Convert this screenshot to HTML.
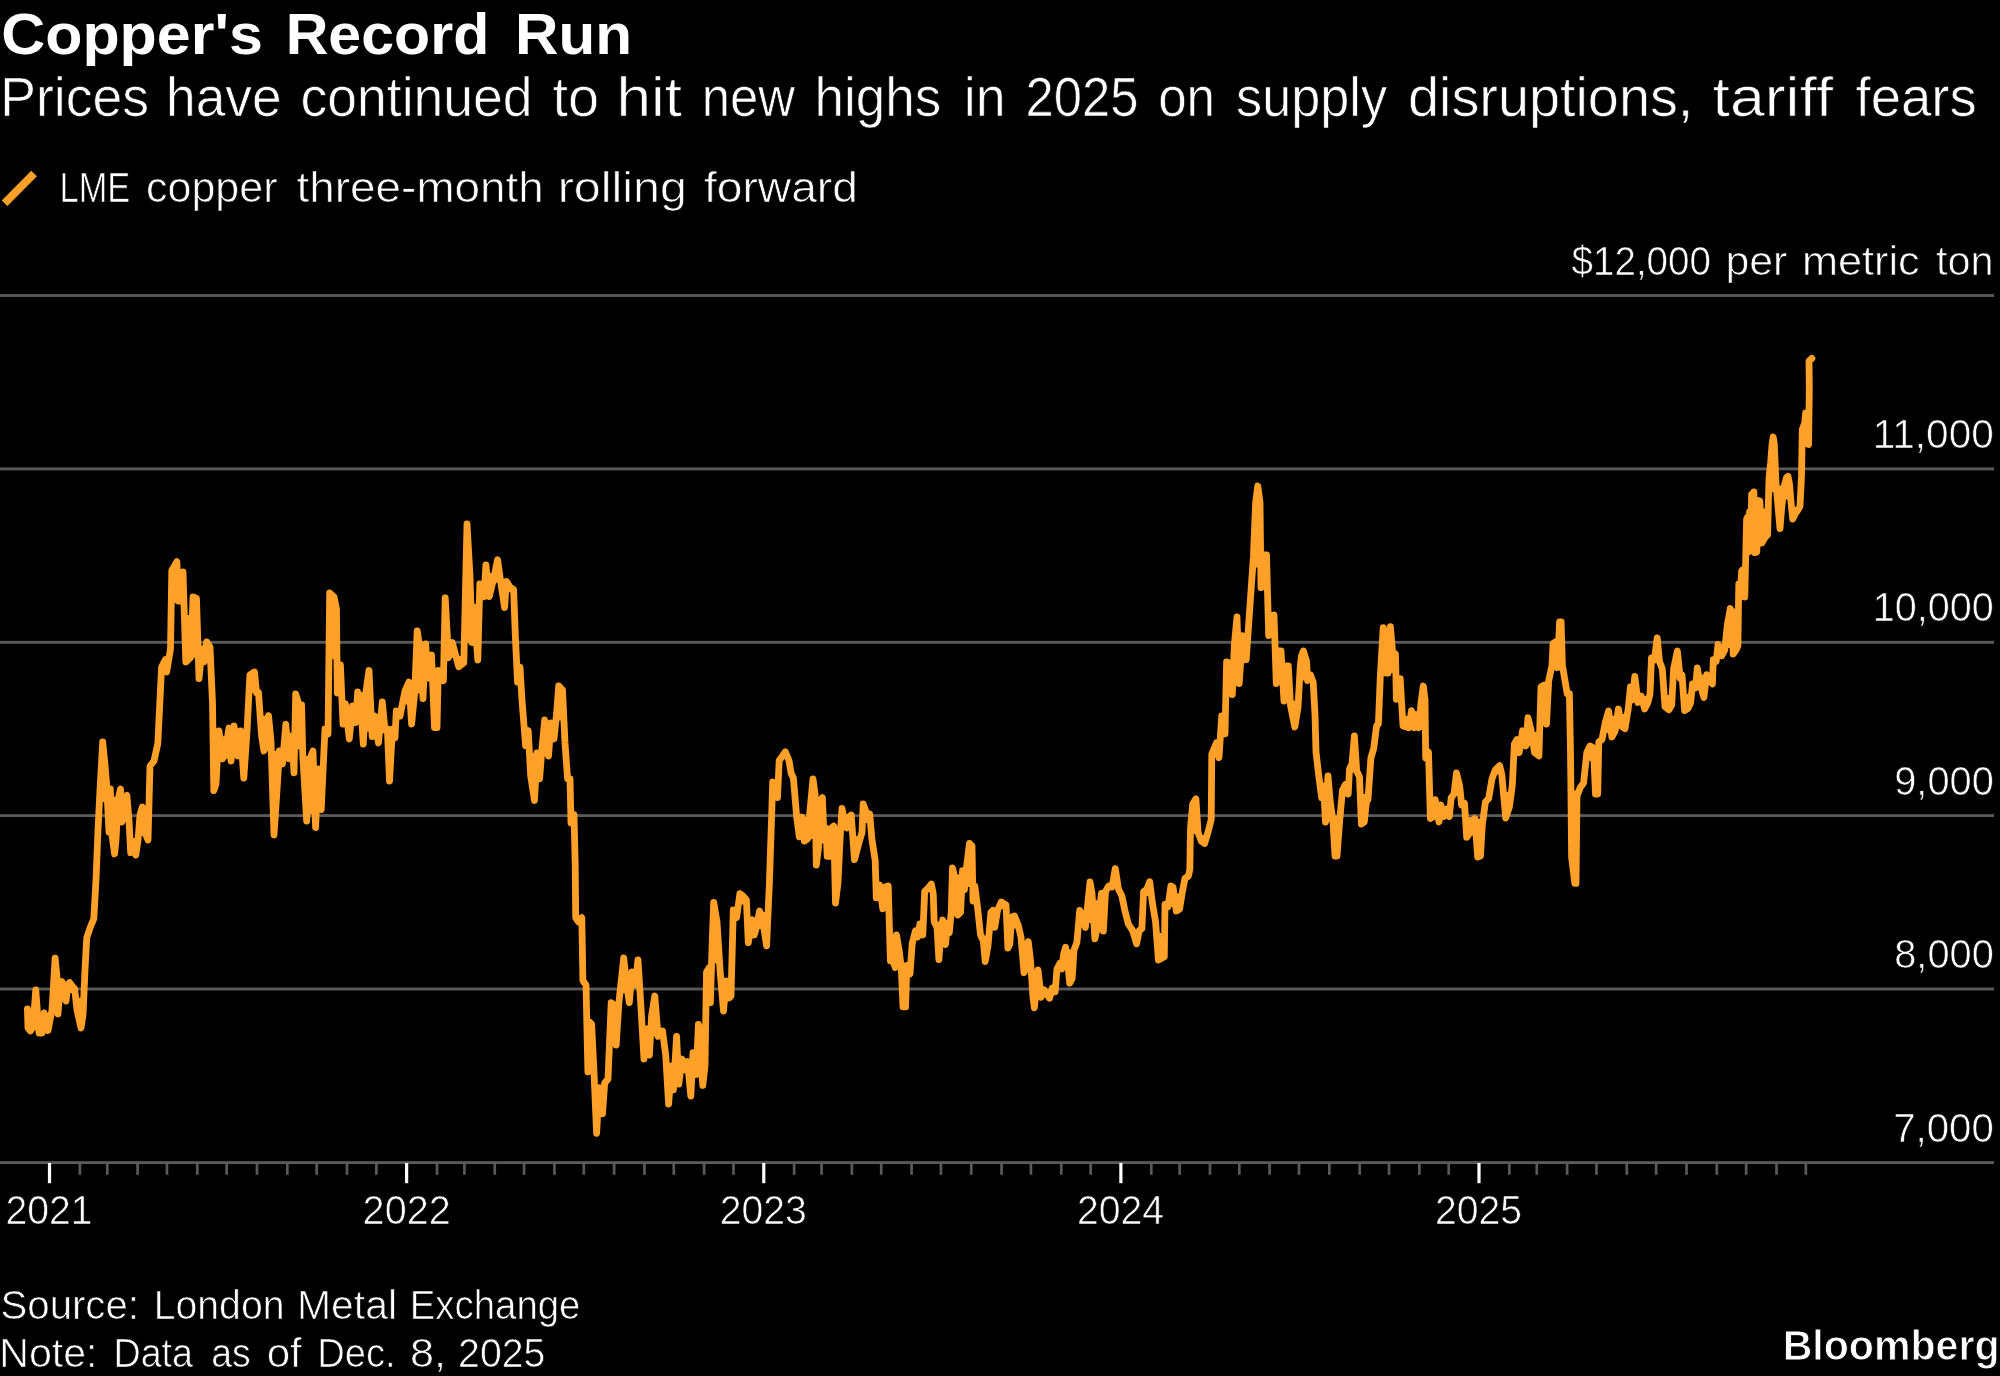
<!DOCTYPE html>
<html lang="en"><head><meta charset="utf-8"><title>Copper's Record Run</title>
<style>html,body{margin:0;padding:0;background:#000;}body{width:2000px;height:1376px;overflow:hidden;}svg{display:block;}text{font-family:"Liberation Sans",sans-serif;fill:#fff;}</style></head><body>
<svg width="2000" height="1376" viewBox="0 0 2000 1376">
<rect width="2000" height="1376" fill="#000"/>
<rect x="0" y="294.05" width="1994" height="2.9" fill="#595959"/>
<rect x="0" y="467.45" width="1994" height="2.9" fill="#595959"/>
<rect x="0" y="640.85" width="1994" height="2.9" fill="#595959"/>
<rect x="0" y="814.15" width="1994" height="2.9" fill="#595959"/>
<rect x="0" y="987.55" width="1994" height="2.9" fill="#595959"/>
<rect x="0" y="1161.15" width="1994" height="2.9" fill="#5a5a5a"/>
<rect x="78.53" y="1162.60" width="2.7" height="12.2" fill="#5a5a5a"/>
<rect x="105.93" y="1162.60" width="2.7" height="12.2" fill="#5a5a5a"/>
<rect x="136.26" y="1162.60" width="2.7" height="12.2" fill="#5a5a5a"/>
<rect x="165.61" y="1162.60" width="2.7" height="12.2" fill="#5a5a5a"/>
<rect x="195.94" y="1162.60" width="2.7" height="12.2" fill="#5a5a5a"/>
<rect x="225.30" y="1162.60" width="2.7" height="12.2" fill="#5a5a5a"/>
<rect x="255.63" y="1162.60" width="2.7" height="12.2" fill="#5a5a5a"/>
<rect x="285.96" y="1162.60" width="2.7" height="12.2" fill="#5a5a5a"/>
<rect x="315.31" y="1162.60" width="2.7" height="12.2" fill="#5a5a5a"/>
<rect x="345.65" y="1162.60" width="2.7" height="12.2" fill="#5a5a5a"/>
<rect x="375.00" y="1162.60" width="2.7" height="12.2" fill="#5a5a5a"/>
<rect x="435.66" y="1162.60" width="2.7" height="12.2" fill="#5a5a5a"/>
<rect x="463.06" y="1162.60" width="2.7" height="12.2" fill="#5a5a5a"/>
<rect x="493.39" y="1162.60" width="2.7" height="12.2" fill="#5a5a5a"/>
<rect x="522.74" y="1162.60" width="2.7" height="12.2" fill="#5a5a5a"/>
<rect x="553.07" y="1162.60" width="2.7" height="12.2" fill="#5a5a5a"/>
<rect x="582.43" y="1162.60" width="2.7" height="12.2" fill="#5a5a5a"/>
<rect x="612.76" y="1162.60" width="2.7" height="12.2" fill="#5a5a5a"/>
<rect x="643.09" y="1162.60" width="2.7" height="12.2" fill="#5a5a5a"/>
<rect x="672.44" y="1162.60" width="2.7" height="12.2" fill="#5a5a5a"/>
<rect x="702.78" y="1162.60" width="2.7" height="12.2" fill="#5a5a5a"/>
<rect x="732.13" y="1162.60" width="2.7" height="12.2" fill="#5a5a5a"/>
<rect x="792.79" y="1162.60" width="2.7" height="12.2" fill="#5a5a5a"/>
<rect x="820.19" y="1162.60" width="2.7" height="12.2" fill="#5a5a5a"/>
<rect x="850.52" y="1162.60" width="2.7" height="12.2" fill="#5a5a5a"/>
<rect x="879.87" y="1162.60" width="2.7" height="12.2" fill="#5a5a5a"/>
<rect x="910.21" y="1162.60" width="2.7" height="12.2" fill="#5a5a5a"/>
<rect x="939.56" y="1162.60" width="2.7" height="12.2" fill="#5a5a5a"/>
<rect x="969.89" y="1162.60" width="2.7" height="12.2" fill="#5a5a5a"/>
<rect x="1000.22" y="1162.60" width="2.7" height="12.2" fill="#5a5a5a"/>
<rect x="1029.57" y="1162.60" width="2.7" height="12.2" fill="#5a5a5a"/>
<rect x="1059.91" y="1162.60" width="2.7" height="12.2" fill="#5a5a5a"/>
<rect x="1089.26" y="1162.60" width="2.7" height="12.2" fill="#5a5a5a"/>
<rect x="1149.92" y="1162.60" width="2.7" height="12.2" fill="#5a5a5a"/>
<rect x="1178.30" y="1162.60" width="2.7" height="12.2" fill="#5a5a5a"/>
<rect x="1208.63" y="1162.60" width="2.7" height="12.2" fill="#5a5a5a"/>
<rect x="1237.98" y="1162.60" width="2.7" height="12.2" fill="#5a5a5a"/>
<rect x="1268.31" y="1162.60" width="2.7" height="12.2" fill="#5a5a5a"/>
<rect x="1297.67" y="1162.60" width="2.7" height="12.2" fill="#5a5a5a"/>
<rect x="1328.00" y="1162.60" width="2.7" height="12.2" fill="#5a5a5a"/>
<rect x="1358.33" y="1162.60" width="2.7" height="12.2" fill="#5a5a5a"/>
<rect x="1387.68" y="1162.60" width="2.7" height="12.2" fill="#5a5a5a"/>
<rect x="1418.02" y="1162.60" width="2.7" height="12.2" fill="#5a5a5a"/>
<rect x="1447.37" y="1162.60" width="2.7" height="12.2" fill="#5a5a5a"/>
<rect x="1508.03" y="1162.60" width="2.7" height="12.2" fill="#5a5a5a"/>
<rect x="1535.43" y="1162.60" width="2.7" height="12.2" fill="#5a5a5a"/>
<rect x="1565.76" y="1162.60" width="2.7" height="12.2" fill="#5a5a5a"/>
<rect x="1595.11" y="1162.60" width="2.7" height="12.2" fill="#5a5a5a"/>
<rect x="1625.44" y="1162.60" width="2.7" height="12.2" fill="#5a5a5a"/>
<rect x="1654.80" y="1162.60" width="2.7" height="12.2" fill="#5a5a5a"/>
<rect x="1685.13" y="1162.60" width="2.7" height="12.2" fill="#5a5a5a"/>
<rect x="1715.46" y="1162.60" width="2.7" height="12.2" fill="#5a5a5a"/>
<rect x="1744.81" y="1162.60" width="2.7" height="12.2" fill="#5a5a5a"/>
<rect x="1775.15" y="1162.60" width="2.7" height="12.2" fill="#5a5a5a"/>
<rect x="1804.50" y="1162.60" width="2.7" height="12.2" fill="#5a5a5a"/>
<rect x="47.90" y="1163.00" width="3.2" height="20.2" fill="#fff"/>
<rect x="405.03" y="1163.00" width="3.2" height="20.2" fill="#fff"/>
<rect x="762.16" y="1163.00" width="3.2" height="20.2" fill="#fff"/>
<rect x="1119.29" y="1163.00" width="3.2" height="20.2" fill="#fff"/>
<rect x="1477.40" y="1163.00" width="3.2" height="20.2" fill="#fff"/>
<polyline fill="none" stroke="#ffa028" stroke-width="6.8" stroke-linejoin="round" stroke-linecap="round" points="27.4,1009.0 28.0,1028.0 30.5,1031.0 33.0,1025.0 35.8,990.0 38.0,1020.0 39.0,1033.0 42.0,1033.0 44.2,1013.0 46.0,1020.0 48.0,1030.5 50.0,1020.0 52.0,1010.0 55.1,958.2 57.0,977.0 58.0,1014.0 60.0,987.0 62.0,981.6 64.0,996.0 66.0,1001.0 68.0,984.0 69.6,982.6 73.0,987.0 74.7,989.0 77.0,1010.0 81.0,1028.0 83.0,1015.0 85.0,970.0 86.7,938.0 90.0,928.0 93.8,918.8 96.0,880.0 98.0,830.0 100.0,790.0 102.7,742.0 105.0,765.0 106.6,784.0 109.0,832.0 110.3,789.0 112.0,835.0 114.6,854.0 116.0,840.0 118.0,800.0 120.5,789.0 121.8,822.0 124.0,800.0 126.9,795.4 129.0,820.0 130.7,852.7 133.0,848.0 135.8,855.0 138.0,840.0 140.0,815.0 142.3,807.0 144.0,820.0 146.0,835.0 148.0,840.0 150.0,766.0 154.0,761.0 157.8,743.6 161.6,667.0 165.4,659.6 166.7,672.0 170.5,649.0 171.8,570.5 176.9,561.6 178.0,601.0 180.5,601.0 183.0,572.0 185.8,662.0 191.0,657.0 193.0,597.0 196.5,598.5 199.0,678.7 202.0,649.0 204.0,662.0 206.7,641.8 210.0,647.0 212.5,703.0 213.8,790.6 216.0,784.0 218.9,730.8 222.7,758.8 226.5,743.6 229.0,728.0 231.0,761.0 234.0,725.8 238.0,756.0 240.5,730.8 243.8,778.0 246.9,733.0 249.9,674.9 254.5,672.0 256.5,692.7 258.5,692.7 261.6,736.0 264.0,751.0 266.5,728.0 268.5,715.6 271.0,741.0 274.0,835.0 277.4,784.0 279.4,751.0 282.5,764.0 285.8,724.5 288.9,758.8 292.0,736.0 294.0,772.8 295.7,694.0 299.0,705.0 301.6,705.0 302.8,756.0 306.7,821.0 310.0,758.8 313.0,751.0 315.6,827.5 318.0,769.0 321.2,809.5 325.0,729.0 328.0,734.0 329.7,592.9 334.0,597.0 336.5,609.0 337.3,693.0 340.4,665.0 343.0,724.0 345.4,703.6 349.3,739.0 352.6,706.0 355.6,722.6 357.7,692.0 360.7,703.6 363.3,744.0 365.8,693.0 369.0,670.5 372.2,736.6 374.7,716.0 378.5,743.0 382.3,702.0 384.9,729.0 387.4,729.0 389.5,781.0 392.5,729.0 395.0,738.0 396.3,711.0 400.0,716.0 405.0,690.8 409.0,682.0 411.6,724.0 414.7,693.0 417.2,631.0 420.5,652.0 423.0,698.5 425.6,643.8 428.0,678.0 431.5,655.0 434.5,727.7 437.0,727.7 438.3,670.5 443.4,680.7 445.2,598.0 448.5,657.8 452.3,642.5 458.7,666.7 463.8,662.8 467.0,524.0 470.0,576.0 472.0,642.5 474.0,607.0 477.8,660.0 479.8,584.0 484.0,596.7 485.9,565.0 489.2,596.7 494.3,576.0 497.6,559.8 501.0,584.0 504.6,607.5 506.4,581.3 510.0,587.0 513.6,589.5 515.4,637.0 517.5,682.0 520.0,667.0 521.8,697.4 525.6,745.7 528.2,730.5 530.7,776.0 534.5,800.5 537.0,753.0 539.6,778.8 542.0,748.0 544.7,720.0 548.5,756.0 551.0,722.8 554.0,739.0 556.7,712.7 558.7,686.0 562.5,689.8 565.0,743.0 567.6,778.8 570.0,778.8 571.0,823.0 574.0,814.5 575.2,865.0 575.7,917.6 578.5,922.0 581.8,917.6 582.9,980.8 586.0,985.0 587.9,1072.0 589.4,1022.0 591.6,1024.0 593.8,1068.0 596.6,1133.4 599.2,1087.6 602.5,1113.8 604.7,1083.0 608.0,1079.0 611.2,1002.6 614.0,1004.8 616.2,1045.0 618.9,1002.6 623.7,958.0 626.5,983.0 629.3,1002.6 632.0,972.0 635.2,985.0 638.0,960.0 640.7,1002.6 644.0,1059.0 647.2,1028.8 649.4,1055.0 651.6,1015.7 654.8,996.0 658.1,1036.4 662.5,1031.0 665.7,1055.0 668.6,1104.0 671.6,1065.8 673.4,1089.8 676.6,1036.4 678.8,1084.0 682.0,1059.0 685.4,1070.0 687.5,1061.5 690.8,1096.0 693.0,1052.7 696.3,1074.5 698.4,1024.4 702.8,1085.4 705.0,1065.8 706.5,972.0 709.3,967.7 710.4,1002.6 712.2,941.6 713.7,902.3 717.0,922.0 720.2,972.0 723.5,1011.0 726.1,980.8 729.0,998.0 731.0,996.0 733.3,910.0 736.6,917.6 739.9,893.6 743.0,896.0 746.4,900.0 748.3,942.6 752.0,919.7 754.2,935.0 756.5,927.0 759.6,911.0 762.9,921.8 766.6,945.8 769.4,882.6 771.6,817.0 772.7,782.0 776.0,786.7 777.5,797.6 779.2,760.5 782.5,756.0 785.3,751.8 789.0,760.5 791.2,773.6 793.4,778.0 796.7,817.0 799.3,836.8 802.0,817.0 804.3,841.0 807.6,839.0 809.8,812.8 813.0,779.0 815.2,795.4 816.3,865.0 818.5,847.7 819.6,802.0 822.4,797.6 824.0,836.8 826.0,828.0 827.2,856.4 829.4,856.4 831.6,828.0 833.7,826.0 835.5,903.0 838.0,882.6 840.3,834.6 842.0,808.5 844.6,821.6 846.8,828.0 849.0,817.0 851.2,815.0 854.5,859.7 858.8,843.4 862.0,832.5 863.2,804.0 866.4,812.8 869.7,814.0 871.9,839.0 875.2,860.8 876.3,897.9 879.5,884.8 882.8,908.8 885.0,887.0 888.2,885.9 890.4,961.0 892.6,959.0 895.2,967.6 896.5,935.0 899.1,950.0 901.3,967.6 903.0,1006.9 905.6,1006.9 906.8,965.4 910.0,974.0 912.2,943.6 915.5,930.6 917.7,937.0 919.9,924.0 922.8,935.0 924.7,891.5 928.5,887.8 931.3,884.0 933.2,893.4 934.2,921.8 937.0,927.4 938.9,959.6 940.8,931.0 942.7,920.0 945.5,944.5 947.4,923.7 949.3,933.0 951.2,912.3 952.5,868.0 955.0,878.0 957.8,915.0 960.6,912.3 962.5,870.7 964.4,889.6 966.3,868.8 969.5,843.3 972.0,846.0 973.0,901.0 974.8,885.9 977.7,908.5 980.5,935.0 983.3,940.7 985.2,961.5 988.0,946.0 990.9,912.3 992.8,910.4 994.7,927.4 997.5,910.4 1001.3,902.0 1006.0,904.8 1007.9,948.0 1009.8,944.0 1011.7,917.0 1014.5,916.0 1018.3,925.6 1021.0,937.0 1024.0,972.8 1025.9,961.5 1028.3,941.6 1030.6,961.5 1033.0,997.4 1034.4,1007.8 1036.3,988.0 1038.1,970.0 1041.0,997.4 1043.8,989.8 1046.7,993.6 1049.5,998.3 1052.3,988.0 1055.2,991.7 1057.0,969.0 1059.9,963.4 1061.8,969.0 1063.7,954.0 1065.6,947.3 1067.4,959.6 1069.7,983.2 1072.2,978.5 1074.0,950.0 1076.9,942.6 1079.7,910.4 1082.6,916.0 1085.4,927.4 1087.3,908.5 1090.0,882.0 1092.0,893.4 1094.9,938.8 1097.7,925.6 1099.6,908.5 1101.5,893.4 1103.4,931.0 1105.5,891.5 1108.7,886.0 1112.0,887.0 1115.3,868.6 1118.5,889.3 1121.8,895.8 1125.0,911.0 1128.3,924.0 1132.7,930.7 1136.6,943.8 1139.2,930.7 1141.9,928.5 1143.6,891.5 1146.9,889.3 1149.7,881.7 1152.3,902.4 1155.6,922.0 1158.4,960.0 1162.0,958.0 1164.3,957.0 1165.0,904.5 1168.0,906.7 1170.9,886.0 1173.0,887.0 1176.3,911.0 1179.6,909.0 1182.4,891.5 1185.0,878.4 1188.3,876.2 1189.8,869.7 1190.5,828.0 1192.7,804.0 1195.9,798.8 1198.1,832.6 1201.4,841.3 1204.6,843.5 1207.9,832.6 1211.2,819.5 1211.8,754.0 1214.5,747.6 1216.5,742.7 1219.0,757.6 1221.7,716.0 1225.0,733.8 1226.6,661.8 1230.5,664.0 1232.3,694.5 1234.4,644.4 1237.0,617.0 1239.2,683.6 1242.5,635.7 1246.2,659.7 1249.7,609.5 1253.4,557.0 1255.6,502.7 1257.8,486.0 1260.0,502.7 1261.0,587.7 1263.7,555.0 1266.5,555.0 1268.7,635.7 1270.9,616.0 1274.0,615.0 1276.3,683.6 1278.5,651.0 1281.0,651.0 1284.0,701.0 1286.0,666.0 1288.3,666.0 1290.5,705.4 1294.8,727.0 1298.0,707.6 1300.3,666.0 1301.5,656.0 1303.4,651.0 1306.6,661.6 1307.6,680.5 1310.4,674.8 1313.2,682.4 1315.0,714.5 1316.0,752.0 1318.9,777.0 1321.7,797.7 1323.6,786.4 1325.5,822.0 1328.0,776.0 1330.2,801.5 1333.0,822.0 1335.0,856.0 1337.0,856.0 1339.7,820.4 1342.5,790.0 1345.4,784.5 1348.2,794.0 1349.5,769.0 1352.0,763.8 1354.4,736.0 1356.7,771.0 1359.5,777.0 1361.4,824.0 1364.3,822.0 1366.5,801.5 1368.0,799.6 1370.9,758.0 1373.7,748.5 1376.6,725.9 1378.4,724.0 1380.3,676.7 1383.2,627.6 1386.0,673.0 1388.0,673.0 1390.4,626.6 1392.6,652.0 1395.5,654.0 1396.4,699.4 1398.3,678.6 1400.2,678.6 1403.0,725.9 1405.9,726.8 1408.7,727.7 1411.5,710.7 1414.4,727.7 1416.3,714.5 1419.0,727.7 1421.0,703.0 1423.3,686.0 1425.0,699.4 1425.7,758.0 1428.5,752.0 1430.4,818.5 1433.3,816.6 1435.2,799.6 1439.0,822.0 1440.8,805.0 1443.7,816.6 1446.5,809.0 1449.3,816.6 1451.2,797.7 1454.0,794.0 1456.5,773.0 1459.7,786.4 1461.6,805.0 1464.5,803.4 1466.7,837.4 1469.2,833.6 1471.0,820.4 1473.0,831.7 1474.9,818.5 1477.7,857.0 1480.5,856.0 1482.3,825.0 1485.4,802.0 1488.7,798.4 1492.0,778.8 1495.3,770.0 1499.6,765.7 1501.8,774.4 1505.7,818.0 1509.4,807.0 1512.3,785.3 1514.4,743.9 1517.0,739.5 1519.2,752.6 1522.5,730.8 1525.8,746.0 1528.0,717.7 1531.2,730.8 1534.5,752.6 1538.9,755.9 1541.0,687.0 1544.3,685.0 1546.5,724.0 1548.7,680.7 1552.0,665.4 1553.0,643.6 1556.3,641.4 1557.4,667.6 1559.6,621.8 1561.1,621.8 1562.4,665.4 1565.0,680.7 1567.2,693.7 1569.4,693.7 1570.5,752.6 1571.0,796.0 1571.6,857.0 1574.8,883.4 1576.0,883.4 1577.0,796.0 1580.3,787.5 1583.6,783.0 1586.8,752.6 1590.0,746.0 1593.4,748.0 1595.5,794.0 1597.7,794.0 1598.8,741.7 1602.0,739.5 1605.4,722.0 1608.6,711.0 1611.9,737.0 1615.2,730.8 1618.4,709.0 1621.7,726.4 1625.0,728.6 1628.2,709.0 1630.4,687.0 1632.6,700.0 1634.8,676.3 1638.0,702.5 1641.3,696.0 1644.6,709.0 1647.9,702.5 1650.0,693.7 1651.5,658.0 1654.4,660.0 1657.2,637.8 1659.5,661.5 1662.3,669.0 1665.0,706.8 1668.9,709.7 1671.7,705.0 1673.6,669.0 1677.4,651.0 1680.2,678.5 1682.0,674.7 1684.6,710.6 1687.8,708.7 1690.6,703.0 1692.5,684.0 1695.4,688.0 1697.3,668.0 1700.0,684.0 1703.9,697.4 1706.7,674.7 1709.5,678.5 1712.4,684.0 1713.3,659.6 1716.2,661.5 1718.0,644.5 1721.8,655.8 1724.7,650.0 1727.5,623.7 1730.3,608.5 1732.2,631.0 1733.2,654.0 1736.0,650.0 1737.9,646.0 1738.8,584.0 1740.7,585.9 1741.7,570.7 1743.6,569.0 1744.8,597.0 1746.6,519.0 1747.6,517.0 1748.6,552.0 1749.6,512.0 1750.6,550.0 1751.6,494.5 1752.6,548.0 1753.9,492.0 1754.8,552.7 1756.8,552.0 1758.0,500.5 1759.8,501.0 1761.8,543.0 1765.3,537.0 1767.6,535.0 1769.0,478.0 1770.6,463.0 1772.1,444.0 1773.2,437.0 1774.3,444.0 1776.0,483.9 1780.0,528.6 1781.5,510.0 1784.0,487.0 1786.5,477.5 1788.0,476.3 1789.5,484.0 1790.8,499.8 1792.7,519.0 1795.0,514.2 1798.3,509.4 1800.0,506.2 1801.5,475.9 1802.3,429.5 1804.7,423.0 1805.6,413.0 1807.6,444.0 1808.6,444.5 1809.3,388.0 1809.0,361.0 1811.9,358.4"/>
<polygon fill="#ffa028" points="27.4,1009.0 28.1,1009.0 28.9,1009.0 29.6,1009.0 30.4,1009.0 31.1,1009.0 31.9,1009.0 32.6,1009.0 33.4,1009.0 34.1,1009.0 34.9,1001.2 35.6,991.9 36.4,998.2 37.1,1008.4 37.9,1013.0 38.6,1013.0 39.4,1013.0 40.1,1013.0 40.9,1013.0 41.6,1013.0 42.4,1013.0 43.1,1013.0 43.9,1013.0 44.6,1013.0 45.4,1013.0 46.1,1013.0 46.9,1013.0 47.6,1013.0 48.4,1013.0 49.1,1013.0 49.9,1013.0 50.6,1013.0 51.4,1013.0 52.1,1007.5 52.9,995.0 53.6,982.4 54.4,969.9 55.1,958.2 55.9,966.1 56.6,973.5 57.4,981.6 58.1,981.6 58.9,981.6 59.6,981.6 60.4,981.6 61.1,981.6 61.9,981.6 62.6,982.6 63.4,982.6 64.2,982.6 64.9,982.6 65.7,982.6 66.4,982.6 67.2,982.6 67.9,982.6 68.7,982.6 69.4,982.6 70.2,983.3 70.9,984.3 71.7,985.3 72.4,986.2 73.2,987.2 73.9,988.1 74.7,988.9 75.4,995.4 76.2,997.7 76.9,997.7 77.7,997.7 78.4,997.7 79.2,997.7 79.9,997.7 80.7,997.7 81.4,997.7 82.2,997.7 82.9,997.7 83.7,997.7 84.4,983.5 84.4,983.5 83.7,1000.4 82.9,1015.6 82.2,1020.5 81.4,1025.4 80.7,1026.4 79.9,1023.1 79.2,1019.7 78.4,1016.3 77.7,1012.9 76.9,1010.0 76.2,1002.2 75.4,995.4 74.7,993.1 73.9,993.1 73.2,993.1 72.4,993.1 71.7,993.1 70.9,993.1 70.2,993.1 69.4,993.1 68.7,993.1 67.9,993.1 67.2,993.1 66.4,997.6 65.7,1001.0 64.9,1001.0 64.2,1001.0 63.4,1001.0 62.6,1001.0 61.9,1001.0 61.1,1001.0 60.4,1001.0 59.6,1001.0 58.9,1001.9 58.1,1012.0 57.4,1014.0 56.6,1014.0 55.9,1014.0 55.1,1014.0 54.4,1014.0 53.6,1014.0 52.9,1014.0 52.1,1014.0 51.4,1014.0 50.6,1016.8 49.9,1020.5 49.1,1024.5 48.4,1028.4 47.6,1030.5 46.9,1030.5 46.1,1030.5 45.4,1030.5 44.6,1030.5 43.9,1030.5 43.1,1030.5 42.4,1030.5 41.6,1033.0 40.9,1033.0 40.1,1033.0 39.4,1033.0 38.6,1030.6 37.9,1030.6 37.1,1030.6 36.4,1030.6 35.6,1030.6 34.9,1030.6 34.1,1030.6 33.4,1030.6 32.6,1030.6 31.9,1030.6 31.1,1030.6 30.4,1031.0 29.6,1031.0 28.9,1031.0 28.1,1031.0 27.4,1031.0"/>
<polygon fill="#ffa028" points="98.7,817.0 99.4,802.0 100.2,787.3 100.9,774.0 101.7,760.7 102.4,747.3 103.2,746.5 103.9,754.0 104.7,761.5 105.4,769.8 106.2,778.7 106.9,789.0 107.7,789.0 108.4,789.0 109.2,789.0 109.9,789.0 110.7,797.1 111.4,797.1 112.2,797.1 112.9,797.1 113.7,797.1 114.4,797.1 115.2,797.1 115.9,797.1 116.7,797.1 117.4,797.1 118.2,797.1 118.9,796.0 119.7,792.7 120.4,789.0 121.2,795.4 121.9,795.4 122.7,795.4 123.4,795.4 124.2,795.4 124.9,795.4 125.7,795.4 126.4,795.4 127.2,798.3 127.9,807.1 128.7,815.9 129.4,827.7 130.2,838.1 130.9,838.1 131.7,838.1 132.4,838.1 133.2,838.1 133.9,838.1 134.7,838.1 135.4,838.1 136.2,838.1 136.9,838.1 137.7,838.1 138.4,835.0 139.2,825.6 139.9,815.0 140.7,812.7 141.4,810.1 142.2,807.5 142.9,807.0 143.7,807.0 144.4,807.0 145.2,807.0 145.9,807.0 146.7,807.0 147.4,807.0 148.2,807.0 148.9,806.7 149.7,778.9 149.7,778.9 148.9,806.7 148.2,834.4 147.4,838.5 146.7,836.6 145.9,836.0 145.2,836.0 144.4,836.0 143.7,836.0 142.9,836.0 142.2,836.0 141.4,836.0 140.7,836.0 139.9,836.0 139.2,836.0 138.4,836.0 137.7,842.4 136.9,847.5 136.2,852.6 135.4,854.0 134.7,852.7 133.9,852.7 133.2,852.7 132.4,852.7 131.7,852.7 130.9,852.7 130.2,842.1 129.4,827.7 128.7,822.0 127.9,822.0 127.2,822.0 126.4,822.0 125.7,822.0 124.9,822.0 124.2,822.0 123.4,822.0 122.7,822.0 121.9,822.0 121.2,822.0 120.4,822.0 119.7,822.0 118.9,822.0 118.2,822.0 117.4,822.0 116.7,827.0 115.9,841.0 115.2,848.5 114.4,852.5 113.7,847.1 112.9,841.6 112.2,836.1 111.4,832.0 110.7,832.0 109.9,832.0 109.2,832.0 108.4,820.0 107.7,805.0 106.9,802.0 106.2,802.0 105.4,802.0 104.7,802.0 103.9,802.0 103.2,802.0 102.4,802.0 101.7,802.0 100.9,802.0 100.2,802.0 99.4,802.0 98.7,817.0"/>
<polygon fill="#ffa028" points="160.7,686.1 161.4,671.0 162.2,665.9 162.9,664.5 163.7,663.0 164.4,661.5 165.2,660.1 165.9,659.6 166.7,659.6 167.4,659.6 168.2,659.6 168.9,658.7 168.9,658.7 168.2,663.2 167.4,667.8 166.7,672.0 165.9,672.0 165.2,672.0 164.4,672.0 163.7,672.0 162.9,672.0 162.2,672.0 161.4,672.0 160.7,686.1"/>
<polygon fill="#ffa028" points="170.4,649.0 171.2,609.8 171.9,570.3 172.7,569.0 173.4,567.7 174.2,566.4 174.9,565.1 175.7,563.8 176.4,562.5 177.2,570.6 177.9,572.0 178.7,572.0 179.4,572.0 180.2,572.0 180.9,572.0 181.7,572.0 182.4,572.0 183.2,576.8 183.9,600.9 184.7,615.0 185.4,615.0 186.2,615.0 186.9,615.0 187.7,615.0 188.4,615.0 189.2,615.0 189.9,615.0 190.7,615.0 191.4,615.0 192.2,615.0 192.9,597.0 193.7,597.3 194.4,597.6 195.2,597.9 195.9,598.2 196.7,603.3 197.4,627.4 198.2,645.9 198.9,645.9 199.7,645.9 200.4,645.9 201.2,645.9 201.9,645.9 202.7,645.9 203.4,645.9 204.2,645.9 204.9,645.9 205.7,645.9 206.4,644.0 207.2,642.5 207.9,643.7 208.7,644.9 209.4,646.1 210.2,650.4 210.9,667.2 210.9,667.2 210.2,662.0 209.4,662.0 208.7,662.0 207.9,662.0 207.2,662.0 206.4,662.0 205.7,662.0 204.9,662.0 204.2,662.0 203.4,662.0 202.7,662.0 201.9,662.0 201.2,662.0 200.4,664.8 199.7,672.3 198.9,678.7 198.2,657.8 197.4,657.8 196.7,657.8 195.9,657.8 195.2,657.8 194.4,657.8 193.7,657.8 192.9,657.8 192.2,657.8 191.4,657.8 190.7,657.8 189.9,658.1 189.2,658.8 188.4,659.5 187.7,660.2 186.9,660.9 186.2,661.7 185.4,649.1 184.7,625.0 183.9,601.0 183.2,601.0 182.4,601.0 181.7,601.0 180.9,601.0 180.2,601.0 179.4,601.0 178.7,601.0 177.9,601.0 177.2,601.0 176.4,601.0 175.7,601.0 174.9,601.0 174.2,601.0 173.4,601.0 172.7,601.0 171.9,601.0 171.2,609.8 170.4,649.6"/>
<polygon fill="#ffa028" points="212.2,695.2 212.9,730.0 213.7,730.8 214.4,730.8 215.2,730.8 215.9,730.8 216.7,730.8 217.4,730.8 218.2,730.8 218.9,730.8 219.7,736.3 220.4,736.3 221.2,736.3 221.9,736.3 222.7,736.3 223.4,736.3 224.2,736.3 224.9,736.3 225.7,736.3 226.4,736.3 227.2,736.3 227.9,734.9 228.7,730.2 229.4,728.0 230.2,728.0 230.9,728.0 231.7,728.0 232.4,728.0 233.2,728.0 233.9,725.8 234.7,730.7 235.4,730.8 236.2,730.8 236.9,730.8 237.7,730.8 238.4,730.8 239.2,730.8 239.9,730.8 240.7,730.8 241.4,730.8 242.2,730.8 242.9,730.8 243.7,730.8 244.4,730.8 245.2,730.8 245.9,730.8 246.7,730.8 247.4,723.3 248.2,708.8 248.9,694.3 249.7,679.7 250.4,674.6 251.2,674.1 251.9,673.6 252.7,673.2 253.4,672.7 254.2,672.2 254.9,676.1 255.7,683.9 256.4,691.7 257.1,692.7 257.1,692.7 256.4,692.7 255.7,692.7 254.9,692.7 254.2,692.7 253.4,692.7 252.7,692.7 251.9,692.7 251.2,692.7 250.4,692.7 249.7,692.7 248.9,694.3 248.2,708.8 247.4,723.3 246.7,736.6 245.9,747.5 245.2,758.4 244.4,769.3 243.7,775.9 242.9,765.1 242.2,756.0 241.4,756.0 240.7,756.0 239.9,756.0 239.2,756.0 238.4,756.0 237.7,756.0 236.9,756.0 236.2,756.0 235.4,756.0 234.7,756.0 233.9,756.0 233.2,756.0 232.4,756.0 231.7,756.0 230.9,761.0 230.2,758.8 229.4,758.8 228.7,758.8 227.9,758.8 227.2,758.8 226.4,758.8 225.7,758.8 224.9,758.8 224.2,758.8 223.4,758.8 222.7,758.8 221.9,758.8 221.2,758.8 220.4,758.8 219.7,758.8 218.9,758.8 218.2,758.8 217.4,758.8 216.7,772.1 215.9,784.3 215.2,786.5 214.4,788.8 213.7,780.5 212.9,730.0 212.2,695.2"/>
<polygon fill="#ffa028" points="259.4,705.3 260.1,715.7 260.9,715.7 261.6,715.7 262.4,715.7 263.1,715.7 263.9,715.7 264.6,715.7 265.4,715.7 266.1,715.7 266.9,715.7 267.6,715.7 268.4,715.6 269.1,722.2 269.9,729.8 270.6,737.4 271.4,751.0 272.1,751.0 272.9,751.0 273.6,751.0 274.4,751.0 275.1,751.0 275.9,751.0 276.6,751.0 277.4,751.0 278.1,751.0 278.9,751.0 279.6,751.0 280.4,751.0 281.1,751.0 281.9,751.0 282.6,751.0 283.4,751.0 284.1,744.3 284.9,735.3 285.6,726.3 286.4,731.1 287.1,733.9 287.9,733.9 288.6,733.9 289.4,733.9 290.1,733.9 290.9,733.9 291.6,733.9 292.4,733.9 293.1,733.9 293.9,733.9 294.6,733.9 295.4,707.9 296.1,695.5 296.9,698.0 297.6,700.5 298.4,703.0 299.1,705.0 299.9,705.0 300.6,705.0 301.4,705.0 302.1,728.4 302.9,756.0 303.6,756.0 304.4,756.0 305.1,756.0 305.9,756.0 306.6,756.0 307.4,756.0 308.1,756.0 308.9,756.0 309.6,756.0 310.4,756.0 311.1,755.8 311.9,753.9 312.6,751.9 313.4,762.8 314.1,769.0 314.9,769.0 315.6,769.0 316.4,769.0 317.1,769.0 317.9,769.0 318.6,769.0 319.4,769.0 320.1,769.0 320.9,769.0 321.6,769.0 322.4,769.0 323.1,768.2 323.9,752.3 324.6,736.4 325.4,729.0 326.1,729.0 326.9,729.0 327.6,729.0 328.4,700.8 329.1,638.6 329.9,593.1 330.6,593.8 331.4,594.5 332.1,595.2 332.9,596.0 333.6,596.7 334.4,598.9 335.1,602.5 335.9,606.1 336.6,624.7 337.4,665.0 338.1,665.0 338.9,665.0 339.6,665.0 340.4,665.0 341.1,682.0 341.9,699.0 342.6,703.6 343.4,703.6 344.1,703.6 344.9,703.6 345.6,705.9 346.4,706.0 347.1,706.0 347.9,706.0 348.6,706.0 349.4,706.0 350.1,706.0 350.9,706.0 351.6,706.0 352.4,706.0 353.1,706.0 353.9,706.0 354.6,706.0 355.4,706.0 356.1,706.0 356.9,703.7 357.6,692.0 358.4,692.3 359.1,692.3 359.9,692.3 360.6,692.3 361.4,692.3 362.1,692.3 362.9,692.3 363.6,692.3 364.4,692.3 365.1,692.3 365.9,692.3 366.6,687.0 367.4,681.8 368.1,676.5 368.9,670.5 369.6,683.9 370.4,699.4 371.1,714.9 371.9,716.0 372.6,716.0 373.4,716.0 374.1,716.0 374.9,716.0 375.6,716.0 376.4,716.0 377.1,716.0 377.9,716.0 378.6,716.0 379.4,716.0 380.1,716.0 380.9,716.0 381.6,709.0 382.4,702.0 383.1,710.8 383.9,718.6 384.6,726.4 385.4,729.0 386.1,729.0 386.9,729.0 387.6,729.0 388.4,729.0 389.1,729.0 389.9,729.0 390.6,729.0 391.4,729.0 392.1,729.0 392.9,729.0 393.6,729.0 394.4,729.0 395.1,729.0 395.9,719.3 396.6,711.0 397.4,711.0 398.1,711.0 398.9,711.0 399.6,711.0 400.4,711.0 401.1,710.2 401.9,706.4 402.6,702.6 403.4,698.9 404.1,695.1 404.9,690.8 405.6,689.4 406.4,687.7 407.1,686.1 407.9,684.4 408.6,682.8 409.4,682.0 410.1,682.0 410.9,682.0 411.6,682.0 412.4,682.0 413.1,682.0 413.9,682.0 414.6,682.0 415.4,675.6 416.1,657.0 416.9,638.4 417.6,633.9 418.4,638.6 419.1,643.4 419.9,643.8 420.6,643.8 421.4,643.8 422.1,643.8 422.9,643.8 423.6,643.8 424.4,643.8 425.1,643.8 425.9,648.1 426.6,655.0 427.4,655.0 428.1,655.0 428.9,655.0 429.6,655.0 430.4,655.0 431.1,655.0 431.9,664.7 432.6,670.5 433.4,670.5 434.1,670.5 434.9,670.5 435.6,670.5 436.4,670.5 437.1,670.5 437.9,670.5 438.6,670.5 439.4,670.5 440.1,670.5 440.9,670.5 441.6,670.5 442.4,670.5 443.1,670.5 443.9,657.7 444.6,623.3 445.4,601.6 446.1,615.2 446.9,628.8 447.6,642.4 448.4,642.5 449.1,642.5 449.9,642.5 450.6,642.5 451.4,642.5 452.1,642.5 452.9,644.8 453.6,647.6 454.4,650.4 455.1,653.3 455.9,656.1 456.6,656.1 457.4,656.1 458.1,656.1 458.9,656.1 459.6,656.1 460.4,656.1 461.1,656.1 461.9,656.1 462.6,656.1 463.4,656.1 464.1,647.6 464.9,615.1 465.6,582.6 466.4,550.0 467.1,526.6 467.9,539.6 468.6,552.6 469.4,565.6 470.1,581.0 470.9,605.9 471.6,607.0 472.4,607.0 473.1,607.0 473.9,607.0 474.6,607.0 475.4,607.0 476.1,607.0 476.9,607.0 477.6,607.0 478.4,607.0 479.1,607.0 479.9,584.0 480.6,584.0 481.4,584.0 482.1,584.0 482.9,584.0 483.6,584.0 484.4,584.0 485.1,577.5 485.9,565.0 486.6,572.2 487.4,573.1 488.1,573.1 488.9,573.1 489.6,573.1 490.4,573.1 491.1,573.1 491.9,573.1 492.6,573.1 493.4,573.1 494.1,573.1 494.9,573.1 495.6,569.4 496.4,565.7 497.1,562.0 497.9,561.9 498.6,567.3 499.4,572.6 500.1,577.9 500.9,581.3 501.6,581.3 502.4,581.3 503.1,581.3 503.9,581.3 504.6,581.3 505.4,581.3 506.1,581.3 506.9,582.1 507.6,583.3 508.4,584.5 509.1,585.7 509.9,586.8 510.6,587.5 511.4,588.0 512.1,588.5 512.9,589.0 513.6,589.5 514.4,610.6 514.4,610.6 513.6,592.2 512.9,592.2 512.1,592.2 511.4,592.2 510.6,592.2 509.9,592.2 509.1,592.2 508.4,592.2 507.6,592.2 506.9,592.2 506.1,592.2 505.4,595.9 504.6,607.5 503.9,602.9 503.1,598.0 502.4,593.1 501.6,588.2 500.9,584.0 500.1,582.7 499.4,582.7 498.6,582.7 497.9,582.7 497.1,582.7 496.4,582.7 495.6,582.7 494.9,582.7 494.1,582.7 493.4,582.7 492.6,582.7 491.9,585.7 491.1,588.8 490.4,591.8 489.6,594.9 488.9,596.7 488.1,596.7 487.4,596.7 486.6,596.7 485.9,596.7 485.1,596.7 484.4,596.7 483.6,596.7 482.9,596.7 482.1,596.7 481.4,596.7 480.6,596.7 479.9,596.7 479.1,608.7 478.4,637.2 477.6,657.9 476.9,647.4 476.1,642.5 475.4,642.5 474.6,642.5 473.9,642.5 473.1,642.5 472.4,642.5 471.6,642.5 470.9,642.5 470.1,642.5 469.4,642.5 468.6,642.5 467.9,642.5 467.1,642.5 466.4,642.5 465.6,642.5 464.9,642.5 464.1,647.6 463.4,663.1 462.6,663.7 461.9,664.3 461.1,664.8 460.4,665.4 459.6,666.0 458.9,666.5 458.1,664.6 457.4,661.8 456.6,658.9 455.9,657.8 455.1,657.8 454.4,657.8 453.6,657.8 452.9,657.8 452.1,657.8 451.4,657.8 450.6,657.8 449.9,657.8 449.1,657.8 448.4,657.8 447.6,657.8 446.9,657.8 446.1,657.8 445.4,657.8 444.6,657.8 443.9,657.8 443.1,680.7 442.4,680.7 441.6,680.7 440.9,680.7 440.1,680.7 439.4,680.7 438.6,680.7 437.9,688.1 437.1,721.1 436.4,727.7 435.6,727.7 434.9,727.7 434.1,719.2 433.4,701.0 432.6,682.9 431.9,678.0 431.1,678.0 430.4,678.0 429.6,678.0 428.9,678.0 428.1,678.0 427.4,678.0 426.6,678.0 425.9,678.0 425.1,678.0 424.4,678.0 423.6,684.8 422.9,698.5 422.1,693.5 421.4,693.5 420.6,693.5 419.9,693.5 419.1,693.5 418.4,693.5 417.6,693.5 416.9,693.5 416.1,693.5 415.4,693.5 414.6,693.5 413.9,701.0 413.1,708.5 412.4,716.0 411.6,724.0 410.9,712.7 410.1,704.6 409.4,704.6 408.6,704.6 407.9,704.6 407.1,704.6 406.4,704.6 405.6,704.6 404.9,704.6 404.1,704.6 403.4,704.6 402.6,704.6 401.9,706.4 401.1,710.2 400.4,714.0 399.6,716.0 398.9,716.0 398.1,716.0 397.4,716.0 396.6,716.0 395.9,719.3 395.1,734.9 394.4,738.0 393.6,738.0 392.9,738.0 392.1,738.0 391.4,748.1 390.6,761.1 389.9,774.1 389.1,772.3 388.4,753.8 387.6,735.2 386.9,733.3 386.1,733.3 385.4,733.3 384.6,733.3 383.9,733.3 383.1,733.3 382.4,733.3 381.6,733.3 380.9,733.3 380.1,733.3 379.4,733.3 378.6,741.4 377.9,738.7 377.1,736.6 376.4,736.6 375.6,736.6 374.9,736.6 374.1,736.6 373.4,736.6 372.6,736.6 371.9,731.8 371.1,731.8 370.4,731.8 369.6,731.8 368.9,731.8 368.1,731.8 367.4,731.8 366.6,731.8 365.9,731.8 365.1,731.8 364.4,731.8 363.6,736.9 362.9,737.8 362.1,726.1 361.4,722.6 360.6,722.6 359.9,722.6 359.1,722.6 358.4,722.6 357.6,722.6 356.9,722.6 356.1,722.6 355.4,722.6 354.6,722.6 353.9,722.6 353.1,722.6 352.4,722.6 351.6,722.6 350.9,723.0 350.1,730.5 349.4,739.0 348.6,733.1 347.9,726.3 347.1,724.0 346.4,724.0 345.6,724.0 344.9,724.0 344.1,724.0 343.4,724.0 342.6,716.1 341.9,699.0 341.1,693.0 340.4,693.0 339.6,693.0 338.9,693.0 338.1,693.0 337.4,693.0 336.6,659.3 335.9,659.3 335.1,659.3 334.4,659.3 333.6,659.3 332.9,659.3 332.1,659.3 331.4,659.3 330.6,659.3 329.9,659.3 329.1,659.3 328.4,700.8 327.6,734.0 326.9,734.0 326.1,734.0 325.4,734.0 324.6,736.4 323.9,752.3 323.1,768.2 322.4,784.1 321.6,800.0 320.9,809.5 320.1,809.5 319.4,809.5 318.6,809.5 317.9,809.5 317.1,809.5 316.4,809.5 315.6,827.5 314.9,814.3 314.1,814.3 313.4,814.3 312.6,814.3 311.9,814.3 311.1,814.3 310.4,814.3 309.6,814.3 308.9,814.3 308.1,814.3 307.4,814.3 306.6,821.0 305.9,807.7 305.1,795.2 304.4,782.7 303.6,770.2 302.9,757.7 302.1,749.6 301.4,749.6 300.6,749.6 299.9,749.6 299.1,749.6 298.4,749.6 297.6,749.6 296.9,749.6 296.1,749.6 295.4,749.6 294.6,749.6 293.9,772.8 293.1,758.8 292.4,758.8 291.6,758.8 290.9,758.8 290.1,758.8 289.4,758.8 288.6,758.8 287.9,758.8 287.1,758.8 286.4,758.8 285.6,758.8 284.9,758.8 284.1,758.8 283.4,758.8 282.6,762.2 281.9,764.0 281.1,764.0 280.4,764.0 279.6,764.0 278.9,764.0 278.1,771.6 277.4,784.0 276.6,795.3 275.9,806.5 275.1,817.8 274.4,829.0 273.6,824.0 272.9,800.5 272.1,777.0 271.4,753.5 270.6,751.0 269.9,751.0 269.1,751.0 268.4,751.0 267.6,751.0 266.9,751.0 266.1,751.0 265.4,751.0 264.6,751.0 263.9,751.0 263.1,745.7 262.4,741.0 261.6,736.3 260.9,726.2 260.1,715.7 259.4,705.3"/>
<polygon fill="#ffa028" points="515.9,647.7 516.6,663.8 517.4,667.0 518.1,667.0 518.9,667.0 519.6,667.0 520.4,673.8 521.1,686.4 521.1,686.4 520.4,682.0 519.6,682.0 518.9,682.0 518.1,682.0 517.4,682.0 516.6,663.8 515.9,647.7"/>
<polygon fill="#ffa028" points="523.6,720.9 524.4,730.4 525.1,730.5 525.9,730.5 526.6,730.5 527.4,730.5 528.1,730.5 528.9,743.2 529.6,753.0 530.4,753.0 531.1,753.0 531.9,753.0 532.6,753.0 533.4,753.0 534.1,753.0 534.9,753.0 535.6,753.0 536.4,753.0 537.1,753.0 537.9,753.0 538.6,753.0 539.4,753.0 540.1,753.0 540.9,753.0 541.6,752.5 542.4,743.9 543.1,736.1 543.9,728.3 544.6,720.0 545.4,722.8 546.1,722.8 546.9,722.8 547.6,722.8 548.4,722.8 549.1,722.8 549.9,722.8 550.6,722.8 551.4,722.8 552.1,722.8 552.9,722.8 553.6,722.8 554.4,722.8 555.1,722.8 555.9,720.5 556.6,712.7 557.4,703.4 558.1,693.3 558.9,686.2 559.6,686.9 560.4,687.7 561.1,688.4 561.9,689.2 562.6,693.0 563.4,709.0 564.1,724.9 564.1,724.9 563.4,720.5 562.6,720.5 561.9,720.5 561.1,720.5 560.4,720.5 559.6,720.5 558.9,720.5 558.1,720.5 557.4,720.5 556.6,720.5 555.9,720.5 555.1,727.8 554.4,735.1 553.6,739.0 552.9,739.0 552.1,739.0 551.4,739.0 550.6,739.0 549.9,739.0 549.1,747.4 548.4,756.0 547.6,756.0 546.9,756.0 546.1,756.0 545.4,756.0 544.6,756.0 543.9,756.0 543.1,756.0 542.4,756.0 541.6,756.0 540.9,762.1 540.1,771.7 539.4,778.8 538.6,778.8 537.9,778.8 537.1,778.8 536.4,778.8 535.6,778.8 534.9,792.9 534.1,798.2 533.4,793.4 532.6,788.6 531.9,783.7 531.1,778.9 530.4,770.5 529.6,756.9 528.9,745.7 528.1,745.7 527.4,745.7 526.6,745.7 525.9,745.7 525.1,740.0 524.4,730.4 523.6,720.9"/>
<polygon fill="#ffa028" points="569.9,778.8 570.6,807.5 571.4,814.5 572.1,814.5 572.9,814.5 573.6,814.5 574.4,831.3 575.1,862.9 575.9,917.6 576.6,917.6 577.4,917.6 578.1,917.6 578.9,917.6 579.6,917.6 580.4,917.6 581.1,917.6 581.9,917.6 582.6,966.4 582.6,966.4 581.9,923.3 581.1,922.0 580.4,922.0 579.6,922.0 578.9,922.0 578.1,921.4 577.4,920.3 576.6,919.1 575.9,917.9 575.1,865.0 574.4,831.3 573.6,823.0 572.9,823.0 572.1,823.0 571.4,823.0 570.6,807.5 569.9,778.8"/>
<polygon fill="#ffa028" points="585.9,984.9 586.6,1014.8 587.4,1022.0 588.1,1022.0 588.9,1022.0 589.6,1022.2 590.4,1022.9 591.1,1023.6 591.9,1030.0 592.6,1045.0 593.4,1060.0 594.1,1076.2 594.9,1087.6 595.6,1087.6 596.4,1087.6 597.1,1087.6 597.9,1087.6 598.6,1087.6 599.4,1087.6 600.1,1087.6 600.9,1087.6 601.6,1087.6 602.4,1087.6 603.1,1087.6 603.9,1087.6 604.6,1083.0 604.6,1083.7 603.9,1094.2 603.1,1104.7 602.4,1113.8 601.6,1113.8 600.9,1113.8 600.1,1113.8 599.4,1113.8 598.6,1113.8 597.9,1113.8 597.1,1123.7 596.4,1128.7 595.6,1111.2 594.9,1093.7 594.1,1076.2 593.4,1072.0 592.6,1072.0 591.9,1072.0 591.1,1072.0 590.4,1072.0 589.6,1072.0 588.9,1072.0 588.1,1072.0 587.4,1049.1 586.6,1014.8 585.9,985.0"/>
<polygon fill="#ffa028" points="608.6,1063.5 609.4,1045.6 610.1,1027.7 610.9,1009.8 611.6,1002.6 612.4,1002.6 613.1,1002.6 613.9,1002.6 614.6,1002.6 615.4,1002.6 616.1,1002.6 616.9,1002.6 617.6,1002.6 618.4,1002.6 619.1,1000.3 619.9,993.3 620.6,986.3 621.4,979.4 622.1,972.4 622.9,965.4 623.6,958.0 624.4,964.2 625.1,970.9 625.9,972.0 626.6,972.0 627.4,972.0 628.1,972.0 628.9,972.0 629.6,972.0 630.4,972.0 631.1,972.0 631.9,972.0 632.6,972.0 633.4,972.0 634.1,972.0 634.9,972.0 635.6,972.0 636.4,972.0 637.1,967.6 637.9,960.0 638.6,970.3 639.4,982.1 640.1,993.9 640.1,993.9 639.4,985.0 638.6,985.0 637.9,985.0 637.1,985.0 636.4,985.0 635.6,985.0 634.9,985.0 634.1,985.0 633.4,985.0 632.6,985.0 631.9,985.0 631.1,985.0 630.4,990.1 629.6,998.6 628.9,999.8 628.1,994.6 627.4,993.3 626.6,993.3 625.9,993.3 625.1,993.3 624.4,993.3 623.6,993.3 622.9,993.3 622.1,993.3 621.4,993.3 620.6,993.3 619.9,993.3 619.1,1000.3 618.4,1010.5 617.6,1022.2 616.9,1034.0 616.1,1045.0 615.4,1045.0 614.6,1045.0 613.9,1045.0 613.1,1045.0 612.4,1045.0 611.6,1045.0 610.9,1045.0 610.1,1045.0 609.4,1045.6 608.6,1063.5"/>
<polygon fill="#ffa028" points="641.4,1014.6 642.1,1027.4 642.9,1028.8 643.6,1028.8 644.4,1028.8 645.1,1028.8 645.9,1028.8 646.6,1028.8 647.4,1028.8 648.1,1028.8 648.9,1028.8 649.6,1028.8 650.4,1028.8 651.1,1023.7 651.9,1013.9 652.6,1009.2 653.4,1004.6 654.1,1000.0 654.9,996.0 655.6,1006.4 656.4,1015.6 657.1,1024.8 657.9,1031.0 658.6,1031.0 659.4,1031.0 660.1,1031.0 660.9,1031.0 661.6,1031.0 662.4,1031.0 663.1,1035.9 663.9,1041.5 663.9,1041.5 663.1,1036.4 662.4,1036.4 661.6,1036.4 660.9,1036.4 660.1,1036.4 659.4,1036.4 658.6,1036.4 657.9,1036.4 657.1,1036.4 656.4,1036.4 655.6,1036.4 654.9,1036.4 654.1,1036.4 653.4,1036.4 652.6,1036.4 651.9,1036.4 651.1,1036.4 650.4,1037.1 649.6,1050.5 648.9,1055.0 648.1,1055.0 647.4,1055.0 646.6,1055.0 645.9,1055.0 645.1,1055.0 644.4,1055.2 643.6,1053.0 642.9,1040.2 642.1,1027.4 641.4,1014.6"/>
<polygon fill="#ffa028" points="665.4,1052.7 666.1,1062.6 666.9,1065.8 667.6,1065.8 668.4,1065.8 669.1,1065.8 669.9,1065.8 670.6,1065.8 671.4,1065.8 672.1,1065.8 672.9,1065.8 673.6,1065.8 674.4,1065.8 675.1,1060.6 675.9,1048.1 676.6,1036.4 677.4,1053.7 678.1,1059.0 678.9,1059.0 679.6,1059.0 680.4,1059.0 681.1,1059.0 681.9,1059.0 682.6,1061.1 683.4,1061.5 684.1,1061.5 684.9,1061.5 685.6,1061.5 686.4,1061.5 687.1,1061.5 687.9,1061.5 688.6,1061.5 689.4,1061.5 690.1,1061.5 690.9,1061.5 691.6,1061.5 692.4,1061.5 693.1,1052.7 693.9,1052.7 694.6,1052.7 695.4,1052.7 696.1,1052.7 696.9,1052.7 697.6,1042.3 698.4,1024.4 699.1,1024.4 699.9,1024.4 700.6,1024.4 701.4,1024.4 702.1,1024.4 702.9,1024.4 703.6,1024.4 704.4,1024.4 705.1,1024.4 705.9,1009.5 706.6,971.8 707.4,970.6 708.1,969.5 708.9,968.3 709.6,967.7 710.4,967.7 711.1,967.7 711.9,951.8 712.6,929.8 713.4,910.2 714.1,905.0 714.9,909.5 715.6,913.9 716.4,918.4 717.1,924.3 717.9,936.1 718.6,947.8 719.4,959.5 720.1,971.2 720.9,980.3 721.6,980.8 722.4,980.8 723.1,980.8 723.9,980.8 724.6,980.8 725.4,980.8 726.1,980.8 726.9,980.8 727.6,980.8 728.4,980.8 729.1,980.8 729.9,980.8 730.6,980.8 731.4,980.8 732.1,953.0 732.9,925.0 733.6,910.0 734.4,910.0 735.1,910.0 735.9,910.0 736.6,910.0 737.4,910.0 738.1,906.3 738.9,900.9 739.6,895.4 740.4,894.0 741.1,894.6 741.9,895.1 742.6,895.7 743.4,896.5 744.1,897.4 744.9,898.2 745.6,899.1 746.4,900.0 747.1,916.8 747.9,919.7 748.6,919.7 749.4,919.7 750.1,919.7 750.9,919.7 751.6,919.7 752.4,919.7 753.1,919.7 753.9,919.7 754.6,919.7 755.4,919.7 756.1,919.7 756.9,919.7 757.6,919.7 758.4,917.2 759.1,913.3 759.9,912.0 760.6,912.0 761.4,912.0 762.1,912.0 762.9,912.0 763.6,912.0 764.4,912.0 765.1,912.0 765.9,912.0 766.6,912.0 767.4,912.0 768.1,910.8 768.9,893.9 768.9,893.9 768.1,910.8 767.4,927.7 766.6,945.8 765.9,941.3 765.1,936.4 764.4,931.5 763.6,929.1 762.9,929.1 762.1,929.1 761.4,929.1 760.6,929.1 759.9,929.1 759.1,929.1 758.4,929.1 757.6,929.1 756.9,929.1 756.1,929.1 755.4,930.8 754.6,933.4 753.9,935.0 753.1,935.0 752.4,935.0 751.6,935.0 750.9,935.0 750.1,935.0 749.4,935.8 748.6,940.4 747.9,933.6 747.1,916.8 746.4,904.5 745.6,904.5 744.9,904.5 744.1,904.5 743.4,904.5 742.6,904.5 741.9,904.5 741.1,904.5 740.4,904.5 739.6,904.5 738.9,904.5 738.1,906.3 737.4,911.8 736.6,917.6 735.9,917.6 735.1,917.6 734.4,917.6 733.6,917.6 732.9,925.0 732.1,953.0 731.4,981.0 730.6,996.4 729.9,997.1 729.1,997.9 728.4,998.0 727.6,998.0 726.9,998.0 726.1,998.0 725.4,998.0 724.6,998.0 723.9,1006.4 723.1,1006.9 722.4,998.0 721.6,989.1 720.9,980.3 720.1,972.0 719.4,963.4 718.6,963.4 717.9,963.4 717.1,963.4 716.4,963.4 715.6,963.4 714.9,963.4 714.1,963.4 713.4,963.4 712.6,963.4 711.9,963.4 711.1,977.2 710.4,1002.6 709.6,1002.6 708.9,1002.6 708.1,1002.6 707.4,1002.6 706.6,1002.6 705.9,1009.5 705.1,1056.4 704.4,1071.1 703.6,1077.8 702.9,1085.4 702.1,1076.4 701.4,1074.5 700.6,1074.5 699.9,1074.5 699.1,1074.5 698.4,1074.5 697.6,1074.5 696.9,1074.5 696.1,1074.5 695.4,1074.5 694.6,1074.5 693.9,1074.5 693.1,1074.5 692.4,1074.5 691.6,1079.3 690.9,1096.0 690.1,1089.2 689.4,1081.4 688.6,1073.5 687.9,1071.5 687.1,1071.5 686.4,1071.5 685.6,1071.5 684.9,1071.5 684.1,1071.5 683.4,1071.5 682.6,1071.5 681.9,1071.5 681.1,1071.5 680.4,1071.5 679.6,1077.4 678.9,1084.0 678.1,1084.0 677.4,1084.0 676.6,1084.0 675.9,1084.0 675.1,1084.0 674.4,1084.0 673.6,1085.6 672.9,1089.8 672.1,1089.8 671.4,1089.8 670.6,1089.8 669.9,1089.8 669.1,1097.0 668.4,1100.6 667.6,1087.9 666.9,1075.3 666.1,1062.6 665.4,1052.7"/>
<polygon fill="#ffa028" points="771.4,823.0 772.1,799.5 772.9,782.0 773.6,782.0 774.4,782.0 775.1,782.0 775.9,782.0 776.6,782.0 777.4,782.0 778.1,782.0 778.9,767.0 778.9,767.0 778.1,783.4 777.4,797.6 776.6,797.6 775.9,797.6 775.1,797.6 774.4,797.6 773.6,797.6 772.9,797.6 772.1,799.5 771.4,823.0"/>
<polygon fill="#ffa028" points="780.1,759.2 780.9,758.2 781.6,757.2 782.4,756.0 783.1,755.0 783.9,753.9 784.6,752.8 785.4,751.8 786.1,753.8 786.9,755.6 787.6,757.3 788.4,759.1 788.4,759.1 787.6,759.1 786.9,759.1 786.1,759.1 785.4,759.1 784.6,759.1 783.9,759.1 783.1,759.1 782.4,759.1 781.6,759.1 780.9,759.1 780.1,759.2"/>
<polygon fill="#ffa028" points="795.9,807.5 796.6,816.4 797.4,817.0 798.1,817.0 798.9,817.0 799.6,817.0 800.4,817.0 801.1,817.0 801.9,817.0 802.6,817.0 803.4,817.0 804.1,817.0 804.9,817.0 805.6,817.0 806.4,817.0 807.1,817.0 807.9,817.0 808.6,817.0 809.4,817.0 810.1,809.1 810.9,801.2 811.6,793.3 812.4,785.3 813.1,780.1 813.9,785.7 814.6,791.3 815.4,797.6 816.1,797.6 816.9,797.6 817.6,797.6 818.4,797.6 819.1,797.6 819.9,797.6 820.6,797.6 821.4,797.6 822.1,797.6 822.9,809.8 823.6,828.0 824.4,828.0 825.1,828.0 825.9,828.0 826.6,828.0 827.4,828.0 828.1,828.0 828.9,828.0 829.6,828.0 830.4,828.0 831.1,828.0 831.9,827.7 832.6,827.0 833.4,826.3 834.1,826.0 834.9,826.0 835.6,826.0 836.4,826.0 837.1,826.0 837.9,826.0 838.6,826.0 839.4,826.0 840.1,826.0 840.9,825.4 841.6,813.9 842.4,810.5 843.1,814.3 843.9,815.0 844.6,815.0 845.4,815.0 846.1,815.0 846.9,815.0 847.6,815.0 848.4,815.0 849.1,815.0 849.9,815.0 850.6,815.0 851.4,817.7 852.1,827.9 852.9,836.2 853.6,836.2 854.4,836.2 855.1,836.2 855.9,836.2 856.6,836.2 857.4,836.2 858.1,836.2 858.9,836.2 859.6,836.2 860.4,836.2 861.1,835.4 861.9,832.5 862.6,817.1 863.4,804.5 864.1,806.6 864.9,808.7 865.6,810.7 866.4,812.8 867.1,813.1 867.9,813.3 868.6,813.6 869.4,813.9 870.1,819.1 870.9,827.6 870.9,827.6 870.1,823.0 869.4,823.0 868.6,823.0 867.9,823.0 867.1,823.0 866.4,823.0 865.6,823.0 864.9,823.0 864.1,823.0 863.4,823.0 862.6,823.0 861.9,832.8 861.1,835.4 860.4,838.0 859.6,840.5 858.9,843.4 858.1,845.9 857.4,848.7 856.6,851.5 855.9,854.4 855.1,857.2 854.4,859.7 853.6,848.2 852.9,838.0 852.1,828.0 851.4,828.0 850.6,828.0 849.9,828.0 849.1,828.0 848.4,828.0 847.6,828.0 846.9,828.0 846.1,828.0 845.4,828.0 844.6,828.0 843.9,828.0 843.1,828.0 842.4,828.0 841.6,828.0 840.9,828.0 840.1,837.7 839.4,853.4 838.6,869.0 837.9,883.4 837.1,889.5 836.4,895.7 835.6,901.8 834.9,877.3 834.1,856.4 833.4,856.4 832.6,856.4 831.9,856.4 831.1,856.4 830.4,856.4 829.6,856.4 828.9,856.4 828.1,856.4 827.4,856.4 826.6,843.4 825.9,843.4 825.1,843.4 824.4,843.4 823.6,843.4 822.9,843.4 822.1,843.4 821.4,843.4 820.6,843.4 819.9,843.4 819.1,843.4 818.4,848.5 817.6,854.4 816.9,860.3 816.1,855.5 815.4,839.0 814.6,839.0 813.9,839.0 813.1,839.0 812.4,839.0 811.6,839.0 810.9,839.0 810.1,839.0 809.4,839.0 808.6,839.0 807.9,839.0 807.1,839.3 806.4,839.7 805.6,840.2 804.9,840.6 804.1,839.4 803.4,836.8 802.6,836.8 801.9,836.8 801.1,836.8 800.4,836.8 799.6,836.8 798.9,833.8 798.1,828.0 797.4,822.3 796.6,817.0 795.9,807.5"/>
<polygon fill="#ffa028" points="875.1,860.5 875.9,884.4 876.6,884.8 877.4,884.8 878.1,884.8 878.9,884.8 879.6,885.9 880.4,886.0 881.1,886.0 881.9,886.0 882.6,886.0 883.4,886.0 884.1,886.0 884.9,886.0 885.6,886.0 886.4,886.0 887.1,886.0 887.9,886.0 888.6,901.3 889.4,926.9 890.1,935.0 890.9,935.0 891.6,935.0 892.4,935.0 893.1,935.0 893.9,935.0 894.6,935.0 895.4,935.0 896.1,935.0 896.9,937.3 897.6,941.6 898.4,946.0 899.1,950.0 899.9,956.4 900.6,962.4 901.4,965.4 902.1,965.4 902.9,965.4 903.6,965.4 904.4,965.4 905.1,965.4 905.9,965.4 906.6,965.4 907.4,965.4 908.1,965.4 908.9,965.4 909.6,965.4 910.4,965.4 911.1,958.1 911.1,958.1 910.4,968.5 909.6,974.0 908.9,974.0 908.1,974.0 907.4,974.0 906.6,974.0 905.9,996.5 905.1,1006.9 904.4,1006.9 903.6,1006.9 902.9,1006.9 902.1,987.2 901.4,969.9 900.6,967.6 899.9,967.6 899.1,967.6 898.4,967.6 897.6,967.6 896.9,967.6 896.1,967.6 895.4,967.6 894.6,965.8 893.9,963.3 893.1,961.0 892.4,961.0 891.6,961.0 890.9,961.0 890.1,952.5 889.4,926.9 888.6,908.8 887.9,908.8 887.1,908.8 886.4,908.8 885.6,908.8 884.9,908.8 884.1,908.8 883.4,908.8 882.6,907.7 881.9,902.3 881.1,897.9 880.4,897.9 879.6,897.9 878.9,897.9 878.1,897.9 877.4,897.9 876.6,897.9 875.9,884.4 875.1,860.8"/>
<polygon fill="#ffa028" points="913.1,939.9 913.9,936.9 914.6,933.9 915.4,930.6 916.1,930.6 916.9,930.6 917.6,930.6 918.4,930.6 919.1,928.4 919.9,924.0 920.6,924.0 921.4,924.0 922.1,924.0 922.9,924.0 923.6,915.5 924.4,898.4 925.1,891.1 925.9,890.3 926.6,889.6 927.4,888.9 928.1,888.1 928.9,887.3 929.6,886.2 930.4,885.2 931.1,884.2 931.9,887.0 932.6,890.7 933.4,899.1 934.1,920.4 934.9,921.7 935.6,921.7 936.4,921.7 937.1,921.7 937.9,921.7 938.6,921.7 939.4,921.7 940.1,921.7 940.9,921.7 941.6,921.7 942.4,921.7 943.1,920.0 943.9,920.0 944.6,920.0 945.4,920.0 946.1,920.0 946.9,920.0 947.6,920.0 948.4,920.0 949.1,920.0 949.9,920.0 950.6,918.3 951.4,905.5 952.1,879.9 952.9,869.6 953.6,872.6 954.4,874.6 955.1,874.6 955.9,874.6 956.6,874.6 957.4,874.6 958.1,874.6 958.9,874.6 959.6,874.6 960.4,874.6 961.1,874.6 961.9,874.6 962.6,870.7 963.4,870.7 964.1,870.7 964.9,870.7 965.6,870.7 966.4,868.0 967.1,862.0 967.9,856.0 968.6,850.1 969.4,843.3 970.1,844.0 970.9,844.8 971.6,845.6 972.4,868.0 973.1,885.9 973.9,885.9 974.6,885.9 975.4,890.6 976.1,896.4 976.9,902.3 976.9,902.3 976.1,901.0 975.4,901.0 974.6,901.0 973.9,901.0 973.1,901.0 972.4,886.9 971.6,886.9 970.9,886.9 970.1,886.9 969.4,886.9 968.6,886.9 967.9,886.9 967.1,886.9 966.4,886.9 965.6,886.9 964.9,886.9 964.1,889.6 963.4,889.6 962.6,889.6 961.9,889.6 961.1,900.3 960.4,912.5 959.6,913.2 958.9,913.9 958.1,914.7 957.4,915.0 956.6,915.0 955.9,915.0 955.1,915.0 954.4,915.0 953.6,915.0 952.9,915.0 952.1,915.0 951.4,915.0 950.6,918.3 949.9,926.5 949.1,933.0 948.4,933.0 947.6,933.0 946.9,933.0 946.1,937.4 945.4,944.5 944.6,944.5 943.9,944.5 943.1,944.5 942.4,944.5 941.6,944.5 940.9,944.5 940.1,944.5 939.4,952.1 938.6,955.4 937.9,942.7 937.1,929.9 936.4,926.2 935.6,924.7 934.9,923.2 934.1,921.8 933.4,899.1 932.6,891.9 931.9,891.9 931.1,891.9 930.4,891.9 929.6,891.9 928.9,891.9 928.1,891.9 927.4,891.9 926.6,891.9 925.9,891.9 925.1,891.9 924.4,898.4 923.6,915.5 922.9,935.0 922.1,935.0 921.4,935.0 920.6,935.0 919.9,935.0 919.1,935.0 918.4,935.0 917.6,937.0 916.9,937.0 916.1,937.0 915.4,937.0 914.6,937.0 913.9,937.0 913.1,939.9"/>
<polygon fill="#ffa028" points="980.4,934.1 981.1,935.5 981.9,935.5 982.6,935.5 983.4,935.5 984.1,935.5 984.9,935.5 985.6,935.5 986.4,935.5 987.1,935.5 987.9,935.5 988.6,935.5 989.4,929.7 990.1,921.0 990.9,912.3 991.6,911.5 992.4,910.8 993.1,910.4 993.9,910.4 994.6,910.4 995.4,910.4 996.1,910.4 996.9,910.4 997.6,910.1 998.4,908.4 999.1,906.8 999.9,905.1 1000.6,903.4 1001.4,902.0 1002.1,902.5 1002.9,903.0 1003.6,903.4 1004.4,903.8 1005.1,904.3 1005.9,904.7 1006.6,916.0 1007.4,916.0 1008.1,916.0 1008.9,916.0 1009.6,916.0 1010.4,916.0 1011.1,916.0 1011.9,916.0 1012.6,916.0 1013.4,916.0 1014.1,916.0 1014.9,917.0 1015.6,918.9 1016.4,920.8 1017.1,922.7 1017.9,924.6 1018.6,927.1 1019.4,930.2 1019.4,930.2 1018.6,928.4 1017.9,928.4 1017.1,928.4 1016.4,928.4 1015.6,928.4 1014.9,928.4 1014.1,928.4 1013.4,928.4 1012.6,928.4 1011.9,928.4 1011.1,928.4 1010.4,935.5 1009.6,944.3 1008.9,945.9 1008.1,947.5 1007.4,936.6 1006.6,919.6 1005.9,909.0 1005.1,909.0 1004.4,909.0 1003.6,909.0 1002.9,909.0 1002.1,909.0 1001.4,909.0 1000.6,909.0 999.9,909.0 999.1,909.0 998.4,909.0 997.6,910.1 996.9,914.0 996.1,918.6 995.4,923.2 994.6,927.4 993.9,927.4 993.1,927.4 992.4,927.4 991.6,927.4 990.9,927.4 990.1,927.4 989.4,929.7 988.6,938.4 987.9,946.6 987.1,950.7 986.4,954.9 985.6,959.0 984.9,958.2 984.1,950.0 983.4,941.8 982.6,939.4 981.9,937.9 981.1,936.3 980.4,935.0"/>
<polygon fill="#ffa028" points="1020.6,935.5 1021.4,941.6 1022.1,941.6 1022.9,941.6 1023.6,941.6 1024.4,941.6 1025.2,941.6 1025.9,941.6 1026.7,941.6 1027.4,941.6 1028.2,941.6 1028.9,946.8 1029.7,953.3 1030.4,959.8 1031.2,969.7 1031.9,970.0 1032.7,970.0 1033.4,970.0 1034.2,970.0 1034.9,970.0 1035.7,970.0 1036.4,970.0 1037.2,970.0 1037.9,970.0 1038.7,975.2 1039.4,982.3 1040.2,989.4 1040.9,989.8 1041.7,989.8 1042.4,989.8 1043.2,989.8 1043.9,989.8 1044.7,989.8 1045.4,989.8 1046.2,989.8 1046.9,989.8 1047.7,989.8 1048.4,989.8 1049.2,989.8 1049.9,989.8 1050.7,989.8 1051.4,989.8 1052.2,988.6 1052.9,988.0 1053.7,988.0 1054.4,988.0 1055.2,988.0 1055.9,982.9 1056.7,973.4 1057.4,968.2 1058.2,966.8 1058.9,965.3 1059.7,963.9 1060.4,963.4 1061.2,963.4 1061.9,963.4 1062.7,962.3 1063.4,956.4 1064.2,952.4 1064.9,949.8 1065.7,947.3 1066.4,949.6 1067.2,949.6 1067.9,949.6 1068.7,949.6 1069.4,949.6 1070.2,949.6 1070.9,949.6 1071.7,949.6 1072.4,949.6 1073.2,949.6 1073.9,949.6 1074.7,948.3 1074.7,948.3 1073.9,951.6 1073.2,963.5 1072.4,975.3 1071.7,979.5 1070.9,980.9 1070.2,982.4 1069.4,980.1 1068.7,972.4 1067.9,969.0 1067.2,969.0 1066.4,969.0 1065.7,969.0 1064.9,969.0 1064.2,969.0 1063.4,969.0 1062.7,969.0 1061.9,969.0 1061.2,969.0 1060.4,969.0 1059.7,969.0 1058.9,969.0 1058.2,969.0 1057.4,969.0 1056.7,973.4 1055.9,982.9 1055.2,991.7 1054.4,991.7 1053.7,991.7 1052.9,991.7 1052.2,991.7 1051.4,991.7 1050.7,994.1 1049.9,996.8 1049.2,997.7 1048.4,997.4 1047.7,997.4 1046.9,997.4 1046.2,997.4 1045.4,997.4 1044.7,997.4 1043.9,997.4 1043.2,997.4 1042.4,997.4 1041.7,997.4 1040.9,997.4 1040.2,997.4 1039.4,997.4 1038.7,997.4 1037.9,997.4 1037.2,997.4 1036.4,997.4 1035.7,997.4 1034.9,1002.6 1034.2,1005.9 1033.4,1000.4 1032.7,992.2 1031.9,980.9 1031.2,972.8 1030.4,972.8 1029.7,972.8 1028.9,972.8 1028.2,972.8 1027.4,972.8 1026.7,972.8 1025.9,972.8 1025.2,972.8 1024.4,972.8 1023.6,968.6 1022.9,959.7 1022.1,950.7 1021.4,941.8 1020.6,935.5"/>
<polygon fill="#ffa028" points="1077.4,936.8 1078.2,928.2 1078.9,919.6 1079.7,910.4 1080.4,910.4 1081.2,910.4 1081.9,910.4 1082.7,910.4 1083.4,910.4 1084.2,910.4 1084.9,910.4 1085.7,910.4 1086.4,910.4 1087.2,910.0 1087.9,902.6 1088.7,895.2 1089.4,887.9 1090.2,882.9 1090.9,887.1 1091.7,891.4 1092.4,899.7 1093.2,900.2 1093.9,900.2 1094.7,900.2 1095.4,900.2 1096.2,900.2 1096.9,900.2 1097.7,900.2 1098.4,900.2 1099.2,900.2 1099.9,900.2 1100.7,900.2 1101.4,893.4 1102.2,893.4 1102.9,893.4 1103.7,893.4 1104.4,893.4 1105.2,893.4 1105.9,890.8 1105.9,890.8 1105.2,898.1 1104.4,912.2 1103.7,926.3 1102.9,931.0 1102.2,931.0 1101.4,931.0 1100.7,931.0 1099.9,931.0 1099.2,931.0 1098.4,931.0 1097.7,931.0 1096.9,931.0 1096.2,932.9 1095.4,936.4 1094.7,934.9 1093.9,923.1 1093.2,923.1 1092.4,923.1 1091.7,923.1 1090.9,923.1 1090.2,923.1 1089.4,923.1 1088.7,923.1 1087.9,923.1 1087.2,923.1 1086.4,923.1 1085.7,924.9 1084.9,927.4 1084.2,927.4 1083.4,927.4 1082.7,927.4 1081.9,927.4 1081.2,927.4 1080.4,927.4 1079.7,927.4 1078.9,927.4 1078.2,928.2 1077.4,936.8"/>
<polygon fill="#ffa028" points="1111.4,886.0 1112.2,886.0 1112.9,882.0 1113.7,877.8 1114.4,873.6 1115.2,869.4 1115.9,872.5 1116.7,877.3 1117.4,882.2 1118.2,887.0 1118.9,890.1 1118.9,890.1 1118.2,887.0 1117.4,887.0 1116.7,887.0 1115.9,887.0 1115.2,887.0 1114.4,887.0 1113.7,887.0 1112.9,887.0 1112.2,887.0 1111.4,887.0"/>
<polygon fill="#ffa028" points="1131.9,929.5 1132.7,929.9 1133.4,929.9 1134.2,929.9 1134.9,929.9 1135.7,929.9 1136.4,929.9 1137.2,929.9 1137.9,929.9 1138.7,929.9 1139.4,929.9 1139.4,930.5 1138.7,933.5 1137.9,937.2 1137.2,941.0 1136.4,943.1 1135.7,940.6 1134.9,938.1 1134.2,935.6 1133.4,933.1 1132.7,930.7 1131.9,929.5"/>
<polygon fill="#ffa028" points="1142.7,912.2 1143.4,895.9 1144.2,891.1 1144.9,890.6 1145.7,890.1 1146.4,889.6 1147.2,888.6 1147.9,886.6 1148.7,884.5 1149.4,882.5 1150.2,885.3 1150.9,891.3 1151.7,897.2 1151.7,897.2 1150.9,895.9 1150.2,895.9 1149.4,895.9 1148.7,895.9 1147.9,895.9 1147.2,895.9 1146.4,895.9 1145.7,895.9 1144.9,895.9 1144.2,895.9 1143.4,895.9 1142.7,912.2"/>
<polygon fill="#ffa028" points="1155.7,922.0 1156.4,932.9 1157.2,932.9 1157.9,932.9 1158.7,932.9 1159.4,932.9 1160.2,932.9 1160.9,932.9 1161.7,932.9 1162.4,932.9 1163.2,932.9 1163.9,932.9 1164.7,930.7 1165.4,904.5 1166.2,904.5 1166.9,904.5 1167.7,904.5 1168.4,903.8 1169.2,898.5 1169.9,893.1 1170.7,887.8 1171.4,886.2 1172.2,886.6 1172.9,887.0 1173.7,891.7 1174.4,893.5 1175.2,893.5 1175.9,893.5 1176.7,893.5 1177.4,893.5 1178.2,893.5 1178.9,893.5 1179.7,893.5 1180.4,893.5 1181.2,893.5 1181.9,893.5 1182.7,890.2 1182.7,890.2 1181.9,894.6 1181.2,899.3 1180.4,904.0 1179.7,909.0 1178.9,909.4 1178.2,909.9 1177.4,910.3 1176.7,910.8 1175.9,908.1 1175.2,906.7 1174.4,906.7 1173.7,906.7 1172.9,906.7 1172.2,906.7 1171.4,906.7 1170.7,906.7 1169.9,906.7 1169.2,906.7 1168.4,906.7 1167.7,906.7 1166.9,906.7 1166.2,906.7 1165.4,906.7 1164.7,930.7 1163.9,957.2 1163.2,957.5 1162.4,957.8 1161.7,958.2 1160.9,958.6 1160.2,959.0 1159.4,959.4 1158.7,959.9 1157.9,953.2 1157.2,943.0 1156.4,932.9 1155.7,922.7"/>
<polygon fill="#ffa028" points="1189.7,870.3 1190.4,828.0 1191.2,820.9 1191.9,812.7 1192.7,804.0 1193.4,802.9 1194.2,801.6 1194.9,800.4 1195.7,799.2 1196.4,806.5 1197.2,818.0 1197.9,829.5 1198.7,834.1 1199.4,835.1 1200.2,835.1 1200.9,835.1 1201.7,835.1 1202.4,835.1 1203.2,835.1 1203.9,835.1 1204.7,835.1 1205.4,835.1 1206.2,835.1 1206.9,835.1 1207.7,833.4 1207.7,833.4 1206.9,835.9 1206.2,838.4 1205.4,840.9 1204.7,843.5 1203.9,843.0 1203.2,842.5 1202.4,842.0 1201.7,841.5 1200.9,840.0 1200.2,838.0 1199.4,836.0 1198.7,834.1 1197.9,834.0 1197.2,834.0 1196.4,834.0 1195.7,834.0 1194.9,834.0 1194.2,834.0 1193.4,834.0 1192.7,834.0 1191.9,834.0 1191.2,834.0 1190.4,834.0 1189.7,870.3"/>
<polygon fill="#ffa028" points="1210.9,820.7 1211.7,770.4 1212.4,752.6 1213.2,750.8 1213.9,749.0 1214.7,747.2 1215.4,745.4 1216.2,743.6 1216.9,742.7 1217.7,742.7 1218.4,742.7 1219.2,742.7 1219.9,742.7 1220.7,732.2 1221.4,720.6 1222.2,716.0 1222.9,716.0 1223.7,716.0 1224.4,716.0 1225.2,716.0 1225.9,693.3 1226.7,661.8 1227.4,661.8 1228.2,661.8 1228.9,661.8 1229.7,661.8 1230.4,661.8 1231.2,661.8 1231.9,661.8 1232.7,661.8 1233.4,661.8 1234.2,650.4 1234.9,639.1 1235.7,631.2 1236.4,623.3 1237.2,621.5 1237.9,635.7 1238.7,635.7 1239.4,635.7 1240.2,635.7 1240.9,635.7 1241.7,635.7 1242.4,635.7 1243.2,635.7 1243.9,635.7 1244.7,635.7 1245.4,635.7 1246.2,635.7 1246.9,635.7 1247.7,635.7 1248.4,628.1 1248.4,628.1 1247.7,638.9 1246.9,649.7 1246.2,659.7 1245.4,659.7 1244.7,659.7 1243.9,659.7 1243.2,659.7 1242.4,659.7 1241.7,659.7 1240.9,659.7 1240.2,669.8 1239.4,680.7 1238.7,683.6 1237.9,683.6 1237.2,683.6 1236.4,683.6 1235.7,683.6 1234.9,683.6 1234.2,683.6 1233.4,683.6 1232.7,686.1 1231.9,694.5 1231.2,694.5 1230.4,694.5 1229.7,694.5 1228.9,694.5 1228.2,694.5 1227.4,694.5 1226.7,694.5 1225.9,694.5 1225.2,727.0 1224.4,733.8 1223.7,733.8 1222.9,733.8 1222.2,733.8 1221.4,733.8 1220.7,733.8 1219.9,743.7 1219.2,755.3 1218.4,757.6 1217.7,757.6 1216.9,757.6 1216.2,757.6 1215.4,757.6 1214.7,757.6 1213.9,757.6 1213.2,757.6 1212.4,757.6 1211.7,770.4 1210.9,820.7"/>
<polygon fill="#ffa028" points="1251.9,578.3 1252.7,567.6 1253.4,557.0 1254.2,538.5 1254.9,520.0 1255.7,502.3 1256.4,496.6 1257.2,490.9 1257.9,486.0 1258.7,492.5 1259.4,498.1 1260.2,515.5 1260.9,555.0 1261.7,555.0 1262.4,555.0 1263.2,555.0 1263.9,555.0 1264.7,555.0 1265.4,555.0 1266.2,555.0 1266.9,569.7 1267.7,597.2 1268.4,615.0 1269.2,615.0 1269.9,615.0 1270.7,615.0 1271.4,615.0 1272.2,615.0 1272.9,615.0 1273.7,615.0 1274.4,626.9 1275.2,649.3 1275.9,651.0 1276.7,651.0 1277.4,651.0 1278.2,651.0 1278.9,651.0 1279.7,651.0 1280.4,651.0 1281.2,653.5 1281.9,666.0 1282.7,666.0 1283.4,666.0 1284.2,666.0 1284.9,666.0 1285.7,666.0 1286.4,666.0 1287.2,666.0 1287.9,666.0 1288.7,672.3 1289.4,685.7 1290.2,699.1 1290.9,700.4 1291.7,700.4 1292.4,700.4 1293.2,700.4 1293.9,700.4 1294.7,700.4 1295.4,700.4 1296.2,700.4 1296.9,700.4 1297.7,700.4 1298.4,700.4 1299.2,686.8 1299.9,673.2 1300.7,663.1 1301.4,656.0 1302.2,654.3 1302.9,652.3 1303.7,651.8 1304.4,654.3 1305.2,656.8 1305.9,659.3 1306.7,661.6 1307.4,674.8 1308.2,674.8 1308.9,674.8 1309.7,674.8 1310.4,674.8 1311.2,676.8 1311.9,678.9 1312.7,680.9 1312.7,680.9 1311.9,680.5 1311.2,680.5 1310.4,680.5 1309.7,680.5 1308.9,680.5 1308.2,680.5 1307.4,680.5 1306.7,680.5 1305.9,680.5 1305.2,680.5 1304.4,680.5 1303.7,680.5 1302.9,680.5 1302.2,680.5 1301.4,680.5 1300.7,680.5 1299.9,680.5 1299.2,686.8 1298.4,700.4 1297.7,709.7 1296.9,714.3 1296.2,718.8 1295.4,723.4 1294.7,726.2 1293.9,722.5 1293.2,718.7 1292.4,714.9 1291.7,711.2 1290.9,707.4 1290.2,701.0 1289.4,701.0 1288.7,701.0 1287.9,701.0 1287.2,701.0 1286.4,701.0 1285.7,701.0 1284.9,701.0 1284.2,701.0 1283.4,691.0 1282.7,683.6 1281.9,683.6 1281.2,683.6 1280.4,683.6 1279.7,683.6 1278.9,683.6 1278.2,683.6 1277.4,683.6 1276.7,683.6 1275.9,671.7 1275.2,649.3 1274.4,635.7 1273.7,635.7 1272.9,635.7 1272.2,635.7 1271.4,635.7 1270.7,635.7 1269.9,635.7 1269.2,635.7 1268.4,624.7 1267.7,597.2 1266.9,587.7 1266.2,587.7 1265.4,587.7 1264.7,587.7 1263.9,587.7 1263.2,587.7 1262.4,587.7 1261.7,587.7 1260.9,587.7 1260.2,567.6 1259.4,567.6 1258.7,567.6 1257.9,567.6 1257.2,567.6 1256.4,567.6 1255.7,567.6 1254.9,567.6 1254.2,567.6 1253.4,567.6 1252.7,567.6 1251.9,578.3"/>
<polygon fill="#ffa028" points="1318.9,777.0 1319.7,782.4 1320.4,782.4 1321.2,782.4 1321.9,782.4 1322.7,782.4 1323.4,782.4 1324.2,782.4 1324.9,782.4 1325.7,782.4 1326.4,782.4 1327.2,782.4 1327.9,776.0 1328.7,783.5 1329.4,792.2 1330.2,800.9 1330.9,806.6 1331.7,812.1 1332.4,815.5 1333.2,815.5 1333.9,815.5 1334.7,815.5 1335.4,815.5 1336.2,815.5 1336.9,815.5 1337.7,815.5 1338.4,815.5 1339.2,815.5 1339.9,815.5 1340.7,810.1 1340.7,810.1 1339.9,818.2 1339.2,827.7 1338.4,837.5 1337.7,847.4 1336.9,856.0 1336.2,856.0 1335.4,856.0 1334.7,850.1 1333.9,837.3 1333.2,824.6 1332.4,822.0 1331.7,822.0 1330.9,822.0 1330.2,822.0 1329.4,822.0 1328.7,822.0 1327.9,822.0 1327.2,822.0 1326.4,822.0 1325.7,822.0 1324.9,810.8 1324.2,797.7 1323.4,797.7 1322.7,797.7 1321.9,797.7 1321.2,793.6 1320.4,788.1 1319.7,782.5 1318.9,777.0"/>
<polygon fill="#ffa028" points="1341.4,801.9 1342.2,793.8 1342.9,789.2 1343.7,787.8 1344.4,786.4 1345.2,785.0 1345.9,784.5 1346.7,784.5 1347.4,784.5 1348.2,784.5 1348.9,780.5 1349.7,768.7 1350.4,767.1 1351.2,765.6 1351.9,763.8 1352.7,756.3 1353.4,747.6 1354.2,738.9 1354.9,743.6 1355.7,755.0 1356.4,766.4 1357.2,772.0 1357.9,773.6 1357.9,773.6 1357.2,772.5 1356.4,772.5 1355.7,772.5 1354.9,772.5 1354.2,772.5 1353.4,772.5 1352.7,772.5 1351.9,772.5 1351.2,772.5 1350.4,772.5 1349.7,772.5 1348.9,780.5 1348.2,794.0 1347.4,794.0 1346.7,794.0 1345.9,794.0 1345.2,794.0 1344.4,794.0 1343.7,794.0 1342.9,794.0 1342.2,794.0 1341.4,801.9"/>
<polygon fill="#ffa028" points="1359.4,776.8 1360.2,793.1 1360.9,793.9 1361.7,793.9 1362.4,793.9 1363.2,793.9 1363.9,793.9 1364.7,793.9 1365.4,793.9 1366.2,793.9 1366.9,793.9 1367.7,793.9 1368.4,793.9 1369.2,783.1 1369.2,783.1 1368.4,793.9 1367.7,800.0 1366.9,801.0 1366.2,804.8 1365.4,811.7 1364.7,818.7 1363.9,822.3 1363.2,822.8 1362.4,823.3 1361.7,823.8 1360.9,811.6 1360.2,793.1 1359.4,777.0"/>
<polygon fill="#ffa028" points="1379.7,692.9 1380.4,675.0 1381.2,662.3 1381.9,649.6 1382.7,636.9 1383.4,627.6 1384.2,627.6 1384.9,627.6 1385.7,627.6 1386.4,627.6 1387.2,627.6 1387.9,627.6 1388.7,627.6 1389.4,627.6 1390.2,627.6 1390.9,632.4 1391.7,641.0 1392.4,649.7 1393.2,652.4 1393.9,652.9 1394.7,653.4 1395.4,653.9 1396.2,678.6 1396.9,678.6 1397.7,678.6 1398.4,678.6 1399.2,678.6 1399.9,678.6 1400.7,686.2 1401.4,698.9 1402.2,711.5 1402.9,715.9 1403.7,715.9 1404.4,715.9 1405.2,715.9 1405.9,715.9 1406.7,715.9 1407.4,715.9 1408.2,715.9 1408.9,715.9 1409.7,715.9 1410.4,715.9 1411.2,712.8 1411.9,713.0 1412.7,713.5 1413.4,713.5 1414.2,713.5 1414.9,713.5 1415.7,713.5 1416.4,713.5 1417.2,713.5 1417.9,713.5 1418.7,713.5 1419.4,713.5 1420.2,713.5 1420.9,703.0 1421.7,698.2 1422.4,692.7 1423.2,687.1 1423.9,690.7 1424.7,696.6 1425.4,732.9 1426.2,752.0 1426.9,752.0 1427.7,752.0 1428.4,752.0 1429.2,774.8 1429.9,799.6 1430.7,799.6 1431.4,799.6 1432.2,799.6 1432.9,799.6 1433.7,799.6 1434.4,799.6 1435.2,799.6 1435.9,803.7 1436.7,805.0 1437.4,805.0 1438.2,805.0 1438.9,805.0 1439.7,805.0 1440.4,805.0 1441.2,806.4 1441.9,809.0 1442.7,809.0 1443.4,809.0 1444.2,809.0 1444.9,809.0 1445.7,809.0 1446.4,809.0 1447.2,809.0 1447.9,809.0 1448.7,809.0 1449.4,809.0 1450.2,808.1 1450.9,800.7 1450.9,800.7 1450.2,808.1 1449.4,816.6 1448.7,816.6 1447.9,816.6 1447.2,816.6 1446.4,816.6 1445.7,816.6 1444.9,816.6 1444.2,816.6 1443.4,816.6 1442.7,816.6 1441.9,816.6 1441.2,816.6 1440.4,816.6 1439.7,816.6 1438.9,822.0 1438.2,818.5 1437.4,818.5 1436.7,818.5 1435.9,818.5 1435.2,818.5 1434.4,818.5 1433.7,818.5 1432.9,818.5 1432.2,818.5 1431.4,818.5 1430.7,818.5 1429.9,801.0 1429.2,774.8 1428.4,758.0 1427.7,758.0 1426.9,758.0 1426.2,758.0 1425.4,732.9 1424.7,727.7 1423.9,727.7 1423.2,727.7 1422.4,727.7 1421.7,727.7 1420.9,727.7 1420.2,727.7 1419.4,727.7 1418.7,727.7 1417.9,727.7 1417.2,727.7 1416.4,727.7 1415.7,727.7 1414.9,727.7 1414.2,727.7 1413.4,727.7 1412.7,727.7 1411.9,727.7 1411.2,727.7 1410.4,727.7 1409.7,727.7 1408.9,727.7 1408.2,727.5 1407.4,727.3 1406.7,727.0 1405.9,726.8 1405.2,726.6 1404.4,726.3 1403.7,726.1 1402.9,725.9 1402.2,711.5 1401.4,699.4 1400.7,699.4 1399.9,699.4 1399.2,699.4 1398.4,699.4 1397.7,699.4 1396.9,699.4 1396.2,686.8 1395.4,673.0 1394.7,673.0 1393.9,673.0 1393.2,673.0 1392.4,673.0 1391.7,673.0 1390.9,673.0 1390.2,673.0 1389.4,673.0 1388.7,673.0 1387.9,673.0 1387.2,673.0 1386.4,673.0 1385.7,673.0 1384.9,673.0 1384.2,673.0 1383.4,673.0 1382.7,673.0 1381.9,673.0 1381.2,673.0 1380.4,676.7 1379.7,692.9"/>
<polygon fill="#ffa028" points="1452.7,795.8 1453.4,794.8 1454.2,792.7 1454.9,786.4 1455.7,780.1 1456.4,773.0 1457.2,775.7 1457.9,778.9 1458.7,782.0 1459.4,785.1 1460.2,790.8 1460.9,798.1 1461.7,803.4 1462.4,803.4 1463.2,803.4 1463.9,803.4 1464.7,805.7 1465.4,817.3 1466.2,820.4 1466.9,820.4 1467.7,820.4 1468.4,820.4 1469.2,820.4 1469.9,820.4 1470.7,820.4 1471.4,820.4 1472.2,820.4 1472.9,820.4 1473.7,820.4 1474.4,820.4 1475.2,818.7 1475.9,818.7 1476.7,818.7 1477.4,818.7 1478.2,818.7 1478.9,818.7 1479.7,818.7 1480.4,818.7 1481.2,818.7 1481.9,818.7 1482.7,818.7 1483.4,816.8 1483.4,816.8 1482.7,822.4 1481.9,831.9 1481.2,844.8 1480.4,856.0 1479.7,856.3 1478.9,856.6 1478.2,856.8 1477.4,852.9 1476.7,842.6 1475.9,835.6 1475.2,835.6 1474.4,835.6 1473.7,835.6 1472.9,835.6 1472.2,835.6 1471.4,835.6 1470.7,835.6 1469.9,835.6 1469.2,835.6 1468.4,835.6 1467.7,836.0 1466.9,837.1 1466.2,828.9 1465.4,817.3 1464.7,805.7 1463.9,805.0 1463.2,805.0 1462.4,805.0 1461.7,805.0 1460.9,798.1 1460.2,795.8 1459.4,795.8 1458.7,795.8 1457.9,795.8 1457.2,795.8 1456.4,795.8 1455.7,795.8 1454.9,795.8 1454.2,795.8 1453.4,795.8 1452.7,795.8"/>
<polygon fill="#ffa028" points="1493.2,775.7 1493.9,773.7 1494.7,771.7 1495.4,769.9 1496.2,769.1 1496.9,768.4 1497.7,767.6 1498.4,766.9 1499.2,766.1 1499.9,766.9 1500.7,769.9 1501.4,772.8 1502.2,778.3 1502.9,786.7 1503.7,792.0 1504.4,792.0 1505.2,792.0 1505.9,792.0 1506.7,792.0 1507.4,792.0 1508.2,792.0 1508.9,792.0 1509.7,792.0 1510.4,792.0 1511.2,792.0 1511.9,788.3 1511.9,788.3 1511.2,793.9 1510.4,799.5 1509.7,805.1 1508.9,808.5 1508.2,810.7 1507.4,812.9 1506.7,815.2 1505.9,817.4 1505.2,811.9 1504.4,803.5 1503.7,795.1 1502.9,786.7 1502.2,778.3 1501.4,774.4 1500.7,774.4 1499.9,774.4 1499.2,774.4 1498.4,774.4 1497.7,774.4 1496.9,774.4 1496.2,774.4 1495.4,774.4 1494.7,774.4 1493.9,774.4 1493.2,775.7"/>
<polygon fill="#ffa028" points="1513.2,768.5 1513.9,753.8 1514.7,743.5 1515.4,742.2 1516.2,740.9 1516.9,739.5 1517.7,739.5 1518.4,739.5 1519.2,739.5 1519.9,739.5 1520.7,739.5 1521.4,738.1 1522.2,733.1 1522.9,730.8 1523.7,730.8 1524.4,730.8 1525.2,730.8 1525.9,730.8 1526.7,730.8 1527.4,725.4 1528.2,718.3 1528.9,721.4 1529.7,724.5 1530.4,727.5 1531.2,730.6 1531.9,732.1 1532.7,732.1 1533.4,732.1 1534.2,732.1 1534.9,732.1 1535.7,732.1 1536.4,732.1 1537.2,732.1 1537.9,732.1 1538.7,732.1 1539.4,732.1 1540.2,714.9 1540.9,687.0 1541.7,686.6 1542.4,686.2 1543.2,685.7 1543.9,685.2 1544.7,685.0 1545.4,685.0 1546.2,685.0 1546.9,685.0 1547.7,685.0 1548.4,685.0 1549.2,678.6 1549.2,678.6 1548.4,686.6 1547.7,701.4 1546.9,716.1 1546.2,724.0 1545.4,724.0 1544.7,724.0 1543.9,724.0 1543.2,724.0 1542.4,724.0 1541.7,724.0 1540.9,724.0 1540.2,724.0 1539.4,739.5 1538.7,755.7 1537.9,755.1 1537.2,754.6 1536.4,754.0 1535.7,753.5 1534.9,752.9 1534.2,750.3 1533.4,746.0 1532.7,746.0 1531.9,746.0 1531.2,746.0 1530.4,746.0 1529.7,746.0 1528.9,746.0 1528.2,746.0 1527.4,746.0 1526.7,746.0 1525.9,746.0 1525.2,746.0 1524.4,746.0 1523.7,746.0 1522.9,746.0 1522.2,746.0 1521.4,746.0 1520.7,746.0 1519.9,748.0 1519.2,752.6 1518.4,752.6 1517.7,752.6 1516.9,752.6 1516.2,752.6 1515.4,752.6 1514.7,752.6 1513.9,753.8 1513.2,768.5"/>
<polygon fill="#ffa028" points="1550.9,670.5 1551.7,667.0 1552.4,656.7 1553.2,643.5 1553.9,643.0 1554.7,642.5 1555.4,642.0 1556.2,641.5 1556.9,641.4 1557.7,641.4 1558.4,641.4 1559.2,631.2 1559.9,621.8 1560.7,621.8 1561.4,631.9 1562.2,657.0 1562.9,668.3 1562.9,668.3 1562.2,667.6 1561.4,667.6 1560.7,667.6 1559.9,667.6 1559.2,667.6 1558.4,667.6 1557.7,667.6 1556.9,667.6 1556.2,667.6 1555.4,667.6 1554.7,667.6 1553.9,667.6 1553.2,667.6 1552.4,667.6 1551.7,667.6 1550.9,670.5"/>
<polygon fill="#ffa028" points="1570.2,733.9 1570.9,787.3 1571.7,790.5 1572.4,790.5 1573.2,790.5 1573.9,790.5 1574.7,790.5 1575.4,790.5 1576.2,790.5 1576.9,790.5 1577.7,790.5 1578.4,790.5 1579.2,790.5 1579.2,790.5 1578.4,792.4 1577.7,794.3 1576.9,804.7 1576.2,870.3 1575.4,883.4 1574.7,882.2 1573.9,876.0 1573.2,869.8 1572.4,863.6 1571.7,857.4 1570.9,796.0 1570.2,733.9"/>
<polygon fill="#ffa028" points="1585.2,768.3 1585.9,761.1 1586.7,754.0 1587.4,751.4 1588.2,749.8 1588.9,748.3 1589.7,746.7 1590.4,746.2 1591.2,746.4 1591.9,746.4 1592.7,746.4 1593.4,746.4 1594.2,746.4 1594.9,746.4 1595.7,746.4 1596.4,746.4 1597.2,746.4 1597.9,746.4 1598.7,746.4 1599.4,741.3 1599.4,741.3 1598.7,748.8 1597.9,784.5 1597.2,794.0 1596.4,794.0 1595.7,794.0 1594.9,780.9 1594.2,764.4 1593.4,761.1 1592.7,761.1 1591.9,761.1 1591.2,761.1 1590.4,761.1 1589.7,761.1 1588.9,761.1 1588.2,761.1 1587.4,761.1 1586.7,761.1 1585.9,761.1 1585.2,768.3"/>
<polygon fill="#ffa028" points="1602.7,736.2 1603.4,732.3 1604.2,728.4 1604.9,724.6 1605.7,721.1 1606.4,718.6 1607.2,716.0 1607.9,713.4 1608.7,711.0 1609.4,715.8 1610.2,715.8 1610.9,715.8 1611.7,715.8 1612.4,715.8 1613.2,715.8 1613.9,715.8 1614.7,715.8 1615.4,715.8 1616.2,715.8 1616.9,715.8 1617.7,714.1 1618.4,709.0 1619.2,713.0 1619.9,713.9 1620.7,713.9 1621.4,713.9 1622.2,713.9 1622.9,713.9 1623.7,713.9 1624.4,713.9 1625.2,713.9 1625.9,713.9 1626.7,713.9 1627.4,713.9 1628.2,709.0 1628.9,702.0 1629.7,694.5 1630.4,687.0 1631.2,687.0 1631.9,687.0 1632.7,687.0 1633.4,687.0 1634.2,683.3 1634.9,676.3 1635.7,683.3 1636.4,689.4 1637.2,695.5 1637.9,696.0 1638.7,696.0 1639.4,696.0 1640.2,696.0 1640.9,696.0 1641.7,696.0 1642.4,696.0 1643.2,696.0 1643.9,696.0 1644.7,696.0 1645.4,696.0 1646.2,696.0 1646.9,696.0 1647.7,696.0 1648.4,696.0 1649.2,696.0 1649.9,693.7 1650.7,678.2 1651.4,658.0 1652.2,658.0 1652.9,658.0 1653.7,658.0 1654.4,658.0 1655.2,654.1 1655.9,648.1 1656.7,642.2 1657.4,639.9 1658.2,647.6 1658.9,655.3 1659.7,661.9 1659.7,661.9 1658.9,661.5 1658.2,661.5 1657.4,661.5 1656.7,661.5 1655.9,661.5 1655.2,661.5 1654.4,661.5 1653.7,661.5 1652.9,661.5 1652.2,661.5 1651.4,661.5 1650.7,678.2 1649.9,694.1 1649.2,697.3 1648.4,700.4 1647.7,703.0 1646.9,704.5 1646.2,705.9 1645.4,707.4 1644.7,709.0 1643.9,706.2 1643.2,703.3 1642.4,702.5 1641.7,702.5 1640.9,702.5 1640.2,702.5 1639.4,702.5 1638.7,702.5 1637.9,702.5 1637.2,700.0 1636.4,700.0 1635.7,700.0 1634.9,700.0 1634.2,700.0 1633.4,700.0 1632.7,700.0 1631.9,700.0 1631.2,700.0 1630.4,700.0 1629.7,700.0 1628.9,702.0 1628.2,709.3 1627.4,713.9 1626.7,718.5 1625.9,723.1 1625.2,727.7 1624.4,728.2 1623.7,727.7 1622.9,727.7 1622.2,727.7 1621.4,727.7 1620.7,727.7 1619.9,727.7 1619.2,727.7 1618.4,727.7 1617.7,727.7 1616.9,727.7 1616.2,727.7 1615.4,729.4 1614.7,731.8 1613.9,733.2 1613.2,734.7 1612.4,736.1 1611.7,735.0 1610.9,733.1 1610.2,733.1 1609.4,733.1 1608.7,733.1 1607.9,733.1 1607.2,733.1 1606.4,733.1 1605.7,733.1 1604.9,733.1 1604.2,733.1 1603.4,733.1 1602.7,736.2"/>
<polygon fill="#ffa028" points="1663.4,684.4 1664.2,694.9 1664.9,694.9 1665.7,694.9 1666.4,694.9 1667.2,694.9 1667.9,694.9 1668.7,694.9 1669.4,694.9 1670.2,694.9 1670.9,694.9 1671.7,694.9 1672.4,691.7 1673.2,677.5 1673.9,667.6 1674.7,664.0 1675.4,660.5 1676.2,656.9 1676.9,653.4 1677.7,653.5 1678.4,660.8 1679.2,668.2 1679.9,674.7 1680.7,674.7 1681.4,674.7 1682.2,676.8 1682.9,687.1 1683.7,694.0 1684.4,694.0 1685.2,694.0 1685.9,694.0 1686.7,694.0 1687.4,694.0 1688.2,694.0 1688.9,694.0 1689.7,694.0 1690.4,694.0 1691.2,694.0 1691.9,690.0 1692.7,684.0 1693.4,684.0 1694.2,684.0 1694.9,684.0 1695.7,684.0 1696.4,677.5 1697.2,669.6 1697.9,671.6 1698.7,674.7 1699.4,674.7 1700.2,674.7 1700.9,674.7 1701.7,674.7 1702.4,674.7 1703.2,674.7 1703.9,674.7 1704.7,674.7 1705.4,674.7 1706.2,674.7 1706.9,674.7 1707.7,674.7 1708.4,674.7 1709.2,674.7 1709.9,674.7 1710.7,674.7 1711.4,674.7 1712.2,674.7 1712.9,670.4 1713.7,659.6 1714.4,659.6 1715.2,659.6 1715.9,659.6 1716.7,657.2 1717.4,650.2 1718.2,644.5 1718.9,644.5 1719.7,644.5 1720.4,644.5 1721.2,644.5 1721.9,644.5 1722.7,644.5 1723.4,644.5 1724.2,644.5 1724.9,644.5 1725.7,641.1 1726.4,634.0 1727.2,627.0 1727.9,621.5 1728.7,617.5 1729.4,613.4 1730.2,609.3 1730.9,608.5 1731.7,608.5 1732.4,608.5 1733.2,608.5 1733.9,608.5 1734.7,608.5 1735.4,608.5 1736.2,608.5 1736.9,608.5 1737.7,608.5 1738.4,608.5 1739.2,584.0 1739.9,584.0 1740.7,584.0 1741.4,575.3 1742.2,570.3 1742.9,569.6 1743.7,569.0 1744.4,569.0 1745.2,569.0 1745.9,549.3 1746.7,518.9 1747.4,517.4 1748.2,517.0 1748.9,517.0 1749.7,512.0 1750.4,512.0 1751.2,512.0 1751.9,494.5 1752.7,494.5 1753.4,494.5 1754.2,500.5 1754.9,500.5 1755.7,500.5 1756.4,500.5 1757.2,500.5 1757.9,500.5 1758.7,500.7 1759.4,500.9 1760.2,508.4 1760.9,508.4 1761.7,508.4 1762.4,508.4 1763.2,508.4 1763.9,508.4 1764.7,508.4 1765.4,508.4 1766.2,508.4 1766.9,508.4 1767.7,508.4 1768.4,502.4 1769.2,476.6 1769.9,469.6 1770.7,462.4 1771.4,452.9 1772.2,443.7 1772.9,438.9 1773.7,439.9 1774.4,444.0 1775.2,464.0 1775.9,481.6 1776.7,485.6 1777.4,485.6 1778.2,485.6 1778.9,485.6 1779.7,485.6 1780.4,485.6 1781.2,485.6 1781.9,485.6 1782.7,485.6 1783.4,485.6 1784.2,485.6 1784.9,483.6 1785.7,480.7 1786.4,477.5 1787.2,477.0 1787.9,476.3 1788.7,479.6 1789.4,483.5 1790.2,491.9 1790.9,499.8 1791.7,506.9 1792.4,506.9 1793.2,506.9 1793.9,506.9 1794.7,506.9 1795.4,506.9 1796.2,506.9 1796.9,506.9 1797.7,506.9 1798.4,506.9 1799.2,506.9 1799.9,506.2 1799.9,506.4 1799.2,507.8 1798.4,509.4 1797.7,510.3 1796.9,511.4 1796.2,512.5 1795.4,513.6 1794.7,514.9 1793.9,516.5 1793.2,518.1 1792.4,516.0 1791.7,508.4 1790.9,500.8 1790.2,499.4 1789.4,499.4 1788.7,499.4 1787.9,499.4 1787.2,499.4 1786.4,499.4 1785.7,499.4 1784.9,499.4 1784.2,499.4 1783.4,499.4 1782.7,499.4 1781.9,506.3 1781.2,514.3 1780.4,523.6 1779.7,524.7 1778.9,516.3 1778.2,507.9 1777.4,499.5 1776.7,492.2 1775.9,492.2 1775.2,492.2 1774.4,492.2 1773.7,492.2 1772.9,492.2 1772.2,492.2 1771.4,492.2 1770.7,492.2 1769.9,492.2 1769.2,492.2 1768.4,502.4 1767.7,535.0 1766.9,535.6 1766.2,536.3 1765.4,537.0 1764.7,538.1 1763.9,539.4 1763.2,540.7 1762.4,542.0 1761.7,543.0 1760.9,543.0 1760.2,543.0 1759.4,543.0 1758.7,543.0 1757.9,543.0 1757.2,543.0 1756.4,552.1 1755.7,552.4 1754.9,552.7 1754.2,552.0 1753.4,552.0 1752.7,552.0 1751.9,552.0 1751.2,552.0 1750.4,552.0 1749.7,552.0 1748.9,552.0 1748.2,552.0 1747.4,552.0 1746.7,552.0 1745.9,552.0 1745.2,581.8 1744.4,597.0 1743.7,597.0 1742.9,597.0 1742.2,597.0 1741.4,597.0 1740.7,597.0 1739.9,597.0 1739.2,597.0 1738.4,611.6 1737.7,646.5 1736.9,648.1 1736.2,649.7 1735.4,650.9 1734.7,651.9 1733.9,653.0 1733.2,654.0 1732.4,648.1 1731.7,648.1 1730.9,648.1 1730.2,648.1 1729.4,648.1 1728.7,648.1 1727.9,648.1 1727.2,648.1 1726.4,648.1 1725.7,648.1 1724.9,648.1 1724.2,651.1 1723.4,652.6 1722.7,654.1 1721.9,655.8 1721.2,655.8 1720.4,655.8 1719.7,655.8 1718.9,655.8 1718.2,655.8 1717.4,655.8 1716.7,657.2 1715.9,661.5 1715.2,661.5 1714.4,661.5 1713.7,661.5 1712.9,670.4 1712.2,684.0 1711.4,684.0 1710.7,684.0 1709.9,684.0 1709.2,684.0 1708.4,684.0 1707.7,684.0 1706.9,684.0 1706.2,684.0 1705.4,685.2 1704.7,691.3 1703.9,697.4 1703.2,694.8 1702.4,692.2 1701.7,689.7 1700.9,688.0 1700.2,688.0 1699.4,688.0 1698.7,688.0 1697.9,688.0 1697.2,688.0 1696.4,688.0 1695.7,688.0 1694.9,688.0 1694.2,688.0 1693.4,688.0 1692.7,688.0 1691.9,690.0 1691.2,697.5 1690.4,703.4 1689.7,704.9 1688.9,706.5 1688.2,708.0 1687.4,708.9 1686.7,709.4 1685.9,709.8 1685.2,710.3 1684.4,707.8 1683.7,697.5 1682.9,687.1 1682.2,678.5 1681.4,678.5 1680.7,678.5 1679.9,678.5 1679.2,678.5 1678.4,678.5 1677.7,678.5 1676.9,678.5 1676.2,678.5 1675.4,678.5 1674.7,678.5 1673.9,678.5 1673.2,678.5 1672.4,691.7 1671.7,705.1 1670.9,706.3 1670.2,707.6 1669.4,708.9 1668.7,709.5 1667.9,709.0 1667.2,708.4 1666.4,707.8 1665.7,707.3 1664.9,706.8 1664.2,694.9 1663.4,684.4"/>
<polygon fill="#ffa028" points="1801.2,483.0 1801.9,452.7 1802.7,428.6 1803.4,426.5 1804.2,424.5 1804.9,420.8 1805.7,413.0 1806.4,413.0 1807.2,413.0 1807.9,413.0 1808.7,413.0 1809.4,360.6 1810.2,360.0 1810.9,359.3 1811.7,358.6 1811.7,444.5 1810.9,444.5 1810.2,444.5 1809.4,444.5 1808.7,444.5 1807.9,444.5 1807.2,444.5 1806.4,444.5 1805.7,444.5 1804.9,444.5 1804.2,444.5 1803.4,444.5 1802.7,444.5 1801.9,452.7 1801.2,483.0"/>
<line x1="4.6" y1="203.2" x2="34.1" y2="173.5" stroke="#ffa028" stroke-width="8.0" stroke-linecap="butt"/>
<g style="filter:grayscale(1)">
<text x="1.18" y="53.6" font-size="57.5" font-weight="bold" textLength="261.62" lengthAdjust="spacingAndGlyphs">Copper's</text>
<text x="285.72" y="53.6" font-size="57.5" font-weight="bold" textLength="203.49" lengthAdjust="spacingAndGlyphs">Record</text>
<text x="514.96" y="53.6" font-size="57.5" font-weight="bold" textLength="117.01" lengthAdjust="spacingAndGlyphs">Run</text>
<text x="0.21" y="116.2" font-size="55" stroke="#000" stroke-width="0.7" textLength="148.75" lengthAdjust="spacingAndGlyphs">Prices</text>
<text x="166.10" y="116.2" font-size="55" stroke="#000" stroke-width="0.7" textLength="115.44" lengthAdjust="spacingAndGlyphs">have</text>
<text x="300.56" y="116.2" font-size="55" stroke="#000" stroke-width="0.7" textLength="231.96" lengthAdjust="spacingAndGlyphs">continued</text>
<text x="552.50" y="116.2" font-size="55" stroke="#000" stroke-width="0.7" textLength="46.61" lengthAdjust="spacingAndGlyphs">to</text>
<text x="616.62" y="116.2" font-size="55" stroke="#000" stroke-width="0.7" textLength="65.50" lengthAdjust="spacingAndGlyphs">hit</text>
<text x="701.73" y="116.2" font-size="55" stroke="#000" stroke-width="0.7" textLength="93.21" lengthAdjust="spacingAndGlyphs">new</text>
<text x="814.41" y="116.2" font-size="55" stroke="#000" stroke-width="0.7" textLength="126.74" lengthAdjust="spacingAndGlyphs">highs</text>
<text x="963.77" y="116.2" font-size="55" stroke="#000" stroke-width="0.7" textLength="41.75" lengthAdjust="spacingAndGlyphs">in</text>
<text x="1025.55" y="116.2" font-size="55" stroke="#000" stroke-width="0.7" textLength="112.91" lengthAdjust="spacingAndGlyphs">2025</text>
<text x="1158.14" y="116.2" font-size="55" stroke="#000" stroke-width="0.7" textLength="56.97" lengthAdjust="spacingAndGlyphs">on</text>
<text x="1236.05" y="116.2" font-size="55" stroke="#000" stroke-width="0.7" textLength="150.97" lengthAdjust="spacingAndGlyphs">supply</text>
<text x="1407.97" y="116.2" font-size="55" stroke="#000" stroke-width="0.7" textLength="285.37" lengthAdjust="spacingAndGlyphs">disruptions,</text>
<text x="1712.60" y="116.2" font-size="55" stroke="#000" stroke-width="0.7" textLength="120.58" lengthAdjust="spacingAndGlyphs">tariff</text>
<text x="1855.60" y="116.2" font-size="55" stroke="#000" stroke-width="0.7" textLength="121.19" lengthAdjust="spacingAndGlyphs">fears</text>
<text x="59.57" y="202.3" font-size="42.5" stroke="#000" stroke-width="0.7" textLength="70.72" lengthAdjust="spacingAndGlyphs">LME</text>
<text x="145.99" y="202.3" font-size="42.5" stroke="#000" stroke-width="0.7" textLength="131.47" lengthAdjust="spacingAndGlyphs">copper</text>
<text x="296.60" y="202.3" font-size="42.5" stroke="#000" stroke-width="0.7" textLength="247.24" lengthAdjust="spacingAndGlyphs">three-month</text>
<text x="557.72" y="202.3" font-size="42.5" stroke="#000" stroke-width="0.7" textLength="129.29" lengthAdjust="spacingAndGlyphs">rolling</text>
<text x="704.00" y="202.3" font-size="42.5" stroke="#000" stroke-width="0.7" textLength="153.86" lengthAdjust="spacingAndGlyphs">forward</text>
<text x="1571.50" y="275" font-size="41.5" stroke="#000" stroke-width="0.7" textLength="139.50" lengthAdjust="spacingAndGlyphs">$12,000</text>
<text x="1725.44" y="275" font-size="41.5" stroke="#000" stroke-width="0.7" textLength="61.88" lengthAdjust="spacingAndGlyphs">per</text>
<text x="1801.91" y="275" font-size="41.5" stroke="#000" stroke-width="0.7" textLength="117.87" lengthAdjust="spacingAndGlyphs">metric</text>
<text x="1936.00" y="275" font-size="41.5" stroke="#000" stroke-width="0.7" textLength="57.58" lengthAdjust="spacingAndGlyphs">ton</text>
<text x="0.51" y="1318.7" font-size="40.5" stroke="#000" stroke-width="0.7" textLength="138.42" lengthAdjust="spacingAndGlyphs">Source:</text>
<text x="153.80" y="1318.7" font-size="40.5" stroke="#000" stroke-width="0.7" textLength="130.64" lengthAdjust="spacingAndGlyphs">London</text>
<text x="296.97" y="1318.7" font-size="40.5" stroke="#000" stroke-width="0.7" textLength="100.05" lengthAdjust="spacingAndGlyphs">Metal</text>
<text x="409.66" y="1318.7" font-size="40.5" stroke="#000" stroke-width="0.7" textLength="170.79" lengthAdjust="spacingAndGlyphs">Exchange</text>
<text x="-0.80" y="1366.7" font-size="40.5" stroke="#000" stroke-width="0.7" textLength="98.30" lengthAdjust="spacingAndGlyphs">Note:</text>
<text x="113.41" y="1366.7" font-size="40.5" stroke="#000" stroke-width="0.7" textLength="79.65" lengthAdjust="spacingAndGlyphs">Data</text>
<text x="211.27" y="1366.7" font-size="40.5" stroke="#000" stroke-width="0.7" textLength="39.58" lengthAdjust="spacingAndGlyphs">as</text>
<text x="266.66" y="1366.7" font-size="40.5" stroke="#000" stroke-width="0.7" textLength="35.06" lengthAdjust="spacingAndGlyphs">of</text>
<text x="317.18" y="1366.7" font-size="40.5" stroke="#000" stroke-width="0.7" textLength="78.39" lengthAdjust="spacingAndGlyphs">Dec.</text>
<text x="409.93" y="1366.7" font-size="40.5" stroke="#000" stroke-width="0.7" textLength="36.04" lengthAdjust="spacingAndGlyphs">8,</text>
<text x="458.06" y="1366.7" font-size="40.5" stroke="#000" stroke-width="0.7" textLength="87.42" lengthAdjust="spacingAndGlyphs">2025</text>
<text x="1782.64" y="1360.4" font-size="42" font-weight="bold" stroke="#000" stroke-width="0.9" textLength="216.96" lengthAdjust="spacingAndGlyphs">Bloomberg</text>
<text x="1872.66" y="448.0" font-size="41.5" stroke="#000" stroke-width="0.7" textLength="121.19" lengthAdjust="spacingAndGlyphs">11,000</text>
<text x="1872.74" y="621.4" font-size="41.5" stroke="#000" stroke-width="0.7" textLength="121.09" lengthAdjust="spacingAndGlyphs">10,000</text>
<text x="1894.24" y="794.7" font-size="41.5" stroke="#000" stroke-width="0.7" textLength="99.60" lengthAdjust="spacingAndGlyphs">9,000</text>
<text x="1894.24" y="968.1" font-size="41.5" stroke="#000" stroke-width="0.7" textLength="99.60" lengthAdjust="spacingAndGlyphs">8,000</text>
<text x="1893.26" y="1141.6999999999998" font-size="41.5" stroke="#000" stroke-width="0.7" textLength="100.58" lengthAdjust="spacingAndGlyphs">7,000</text>
<text x="5.51" y="1223.5" font-size="41.5" stroke="#000" stroke-width="0.7" textLength="87.11" lengthAdjust="spacingAndGlyphs">2021</text>
<text x="362.62" y="1223.5" font-size="41.5" stroke="#000" stroke-width="0.7" textLength="88.09" lengthAdjust="spacingAndGlyphs">2022</text>
<text x="719.77" y="1223.5" font-size="41.5" stroke="#000" stroke-width="0.7" textLength="87.11" lengthAdjust="spacingAndGlyphs">2023</text>
<text x="1076.90" y="1223.5" font-size="41.5" stroke="#000" stroke-width="0.7" textLength="87.11" lengthAdjust="spacingAndGlyphs">2024</text>
<text x="1435.01" y="1223.5" font-size="41.5" stroke="#000" stroke-width="0.7" textLength="87.11" lengthAdjust="spacingAndGlyphs">2025</text>
</g>
</svg></body></html>
